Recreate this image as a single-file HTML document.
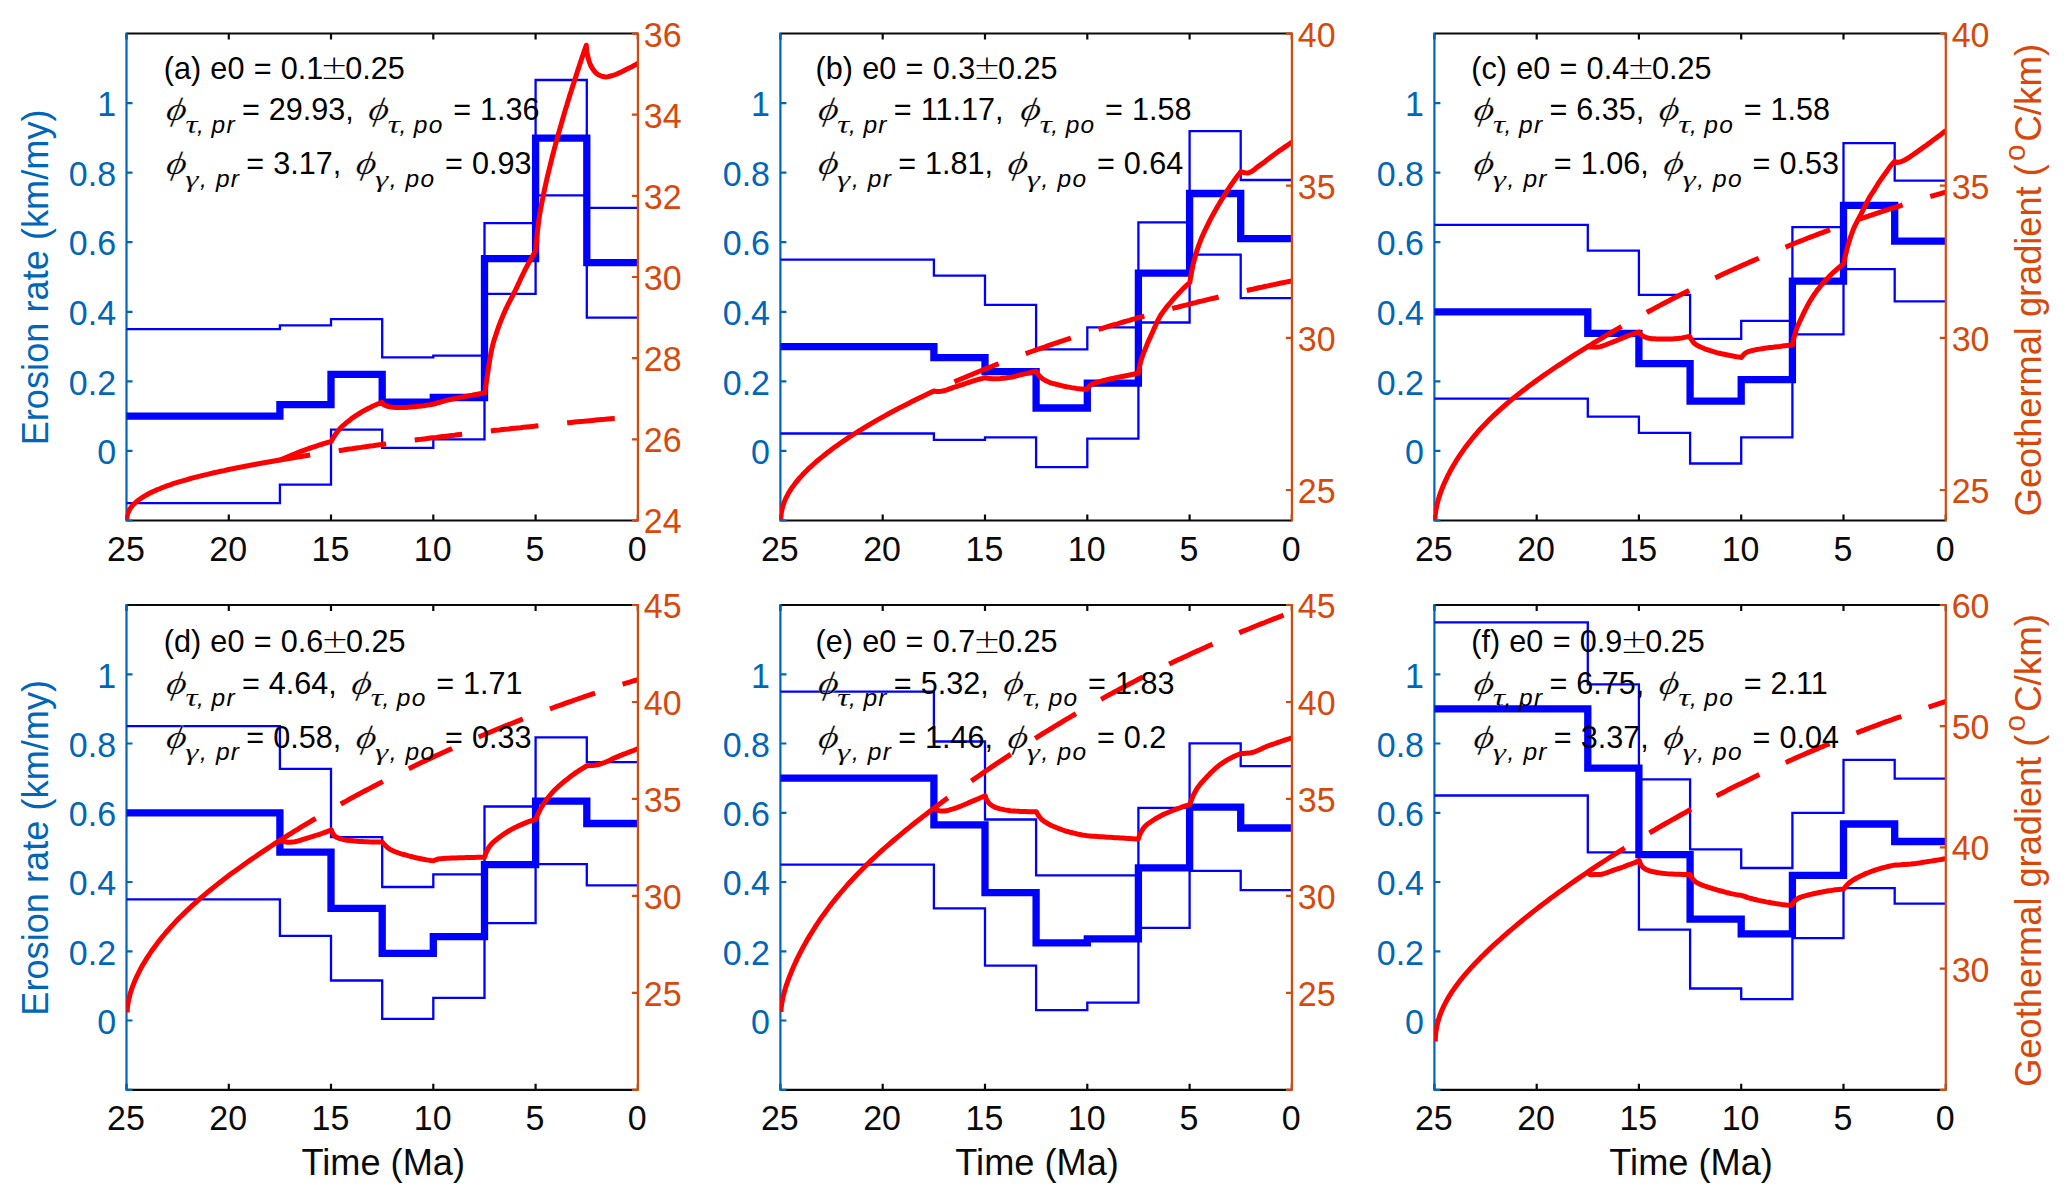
<!DOCTYPE html>
<html><head><meta charset="utf-8"><title>Erosion rate and geothermal gradient</title>
<style>html,body{margin:0;padding:0;background:#fff}svg{display:block}</style></head>
<body><svg width="2067" height="1204" viewBox="0 0 2067 1204">
<rect width="2067" height="1204" fill="#fff"/>
<g>
<path d="M126.5 33.5 H637.9 M126.5 520.5 H637.9" stroke="#0a0a0a" stroke-width="2.2" fill="none"/>
<path d="M126.5 520.5 v-6 M126.5 33.5 v6 M228.8 520.5 v-6 M228.8 33.5 v6 M331 520.5 v-6 M331 33.5 v6 M433.3 520.5 v-6 M433.3 33.5 v6 M535.6 520.5 v-6 M535.6 33.5 v6 M637.9 520.5 v-6 M637.9 33.5 v6 " stroke="#0a0a0a" stroke-width="2.2" fill="none"/>
<path d="M126.5 32.4 V521.6 M126.5 520.5 h6 M126.5 450.9 h6 M126.5 381.3 h6 M126.5 311.8 h6 M126.5 242.2 h6 M126.5 172.7 h6 M126.5 103.1 h6 " stroke="#0066B7" stroke-width="2.2" fill="none"/>
<clipPath id="clip_a"><rect x="126.2" y="33.2" width="512" height="487.5"/></clipPath>
<g clip-path="url(#clip_a)">
<path d="M126.5 329.2 L279.9 329.2 L279.9 325.3 L331 325.3 L331 319.1 L382.2 319.1 L382.2 357.3 L433.3 357.3 L433.3 355.6 L484.5 355.6 L484.5 223.1 L535.6 223.1 L535.6 80 L586.8 80 L586.8 207.8 L637.9 207.8" fill="none" stroke="#0000ff" stroke-width="2.3" stroke-linejoin="miter"/>
<path d="M126.5 503.1 L279.9 503.1 L279.9 484.6 L331 484.6 L331 429.7 L382.2 429.7 L382.2 447.8 L433.3 447.8 L433.3 439.4 L484.5 439.4 L484.5 293.8 L535.6 293.8 L535.6 195.3 L586.8 195.3 L586.8 317.7 L637.9 317.7" fill="none" stroke="#0000ff" stroke-width="2.3" stroke-linejoin="miter"/>
<path d="M126.5 416.1 L279.9 416.1 L279.9 404.6 L331 404.6 L331 374.4 L382.2 374.4 L382.2 402.2 L433.3 402.2 L433.3 397.5 L484.5 397.5 L484.5 258.6 L535.6 258.6 L535.6 138.2 L586.8 138.2 L586.8 262.7 L637.9 262.7" fill="none" stroke="#0000ff" stroke-width="7.3" stroke-linejoin="miter"/>
<path d="M126.8 519.6 L126.8 518.5 L126.9 517.3 L127.1 516.2 L127.3 515.2 L127.6 514.1 L128 513 L128.4 512 L128.9 510.9 L129.4 509.9 L130 508.9 L130.7 507.9 L131.4 506.9 L132.2 505.9 L133.1 504.9 L134 503.9 L135 503 L136.1 502 L137.2 501.1 L138.4 500.1 L139.7 499.2 L141 498.3 L142.4 497.4 L143.8 496.5 L145.3 495.6 L146.9 494.7 L148.5 493.8 L150.2 492.9 L152 492.1 L153.8 491.2 L155.7 490.4 L157.7 489.5 L159.7 488.7 L161.8 487.8 L164 487 L166.2 486.2 L168.5 485.4 L170.8 484.6 L173.2 483.7 L175.7 482.9 L178.3 482.1 L180.9 481.3 L183.5 480.6 L186.3 479.8 L189.1 479 L191.9 478.2 L194.8 477.4 L197.8 476.7 L200.9 475.9 L204 475.1 L207.2 474.4 L210.4 473.6 L213.8 472.8 L217.1 472.1 L220.6 471.3 L224.1 470.6 L227.6 469.8 L231.3 469 L235 468.3 L238.7 467.5 L242.6 466.8 L246.5 466 L250.4 465.3 L254.4 464.5 L258.5 463.8 L262.7 463 L266.9 462.3 L271.2 461.5 L275.5 460.8 L279.9 460 L282.3 459 L284.7 458 L287.1 457 L289.5 456 L291.9 455 L294.3 454 L296.7 453.1 L299.1 452.1 L301.6 451.2 L304 450.3 L306.5 449.4 L308.9 448.5 L311.4 447.7 L313.8 446.9 L316.3 446.1 L318.8 445.2 L321.2 444.5 L323.7 443.7 L326.2 442.9 L328.7 442.2 L331.2 441.5 L332.4 439.2 L333.7 437 L335.1 434.9 L336.5 432.9 L338 430.9 L339.6 429 L341.3 427.2 L343.2 425.5 L345.1 423.8 L347 422.2 L349 420.7 L351 419.1 L353 417.6 L355.1 416.2 L357.2 414.8 L359.3 413.5 L361.4 412.2 L363.6 410.9 L365.8 409.7 L368 408.5 L370.3 407.4 L372.5 406.3 L374.8 405.3 L377.1 404.3 L379.5 403.3 L381.8 402.4 L383.5 404.5 L385.6 405.7 L388 406.5 L390.6 406.9 L393.1 407.2 L395.7 407.4 L398.3 407.6 L400.8 407.6 L403.4 407.5 L405.9 407.4 L408.5 407.3 L411.1 407 L413.6 406.8 L416.2 406.6 L418.7 406.3 L421.3 406 L423.8 405.7 L426.3 405.3 L428.9 404.9 L431.4 404.5 L433.9 404 L436.4 403.2 L438.9 402.5 L441.4 401.8 L443.9 401.1 L446.4 400.4 L449 399.8 L451.5 399.2 L454 398.6 L456.6 398.1 L459.1 397.6 L461.7 397.1 L464.3 396.6 L466.8 396.1 L469.4 395.6 L472 395.2 L474.5 394.7 L477.1 394.3 L479.7 393.8 L482.2 393.4 L484.8 393 L485.1 390.5 L485.5 388 L485.8 385.6 L486.2 383.1 L486.6 380.6 L486.9 378.1 L487.3 375.7 L487.7 373.2 L488.1 370.7 L488.4 368.2 L488.8 365.7 L489.2 363.3 L489.6 360.8 L490 358.3 L490.4 355.8 L490.9 353.4 L491.4 350.9 L491.9 348.5 L492.5 346.1 L493.1 343.7 L493.8 341.2 L494.5 338.8 L495.3 336.5 L496.1 334.1 L496.9 331.7 L497.7 329.3 L498.5 327 L499.4 324.6 L500.3 322.3 L501.2 319.9 L502.2 317.6 L503.1 315.3 L504.1 313 L505.1 310.7 L506.2 308.4 L507.2 306.2 L508.3 303.9 L509.5 301.7 L510.6 299.5 L511.8 297.3 L513 295 L514.1 292.8 L515.2 290.6 L516.3 288.3 L517.4 286.1 L518.4 283.8 L519.5 281.5 L520.5 279.2 L521.6 277 L522.7 274.7 L523.8 272.5 L524.9 270.2 L526 268 L527.2 265.8 L528.4 263.6 L529.6 261.4 L530.8 259.2 L532 257 L533.3 254.8 L534.5 252.7 L535.8 250.5 L536 248 L536.1 245.5 L536.3 242.9 L536.6 240.4 L536.8 237.9 L537 235.4 L537.3 232.9 L537.6 230.4 L537.9 227.9 L538.2 225.4 L538.5 222.9 L538.8 220.4 L539.2 217.9 L539.5 215.4 L539.9 212.9 L540.4 210.4 L540.8 207.9 L541.3 205.4 L541.8 203 L542.3 200.5 L542.8 198 L543.3 195.5 L543.8 193.1 L544.3 190.6 L544.8 188.1 L545.4 185.7 L545.9 183.2 L546.5 180.7 L547 178.3 L547.6 175.8 L548.2 173.4 L548.8 170.9 L549.4 168.5 L550 166 L550.6 163.5 L551.2 161.1 L551.8 158.7 L552.4 156.2 L553.1 153.8 L553.7 151.3 L554.3 148.9 L555 146.4 L555.6 144 L556.3 141.6 L557 139.1 L557.6 136.7 L558.3 134.3 L559 131.8 L559.7 129.4 L560.4 127 L561.1 124.6 L561.8 122.1 L562.5 119.7 L563.2 117.3 L563.9 114.9 L564.6 112.4 L565.3 110 L566 107.6 L566.8 105.2 L567.5 102.8 L568.2 100.4 L569 98 L569.7 95.5 L570.5 93.1 L571.3 90.7 L572 88.3 L572.8 85.9 L573.6 83.5 L574.3 81.1 L575.1 78.7 L575.9 76.3 L576.7 73.9 L577.4 71.5 L578.2 69.1 L579 66.7 L579.8 64.3 L580.6 61.9 L581.4 59.5 L582.2 57.1 L583 54.8 L583.8 52.4 L584.7 50 L585.5 47.6 L586.3 45.2 L586.4 47.8 L586.7 50.4 L587.1 52.9 L587.6 55.4 L588.2 57.8 L588.8 60.2 L589.5 62.6 L590.5 65 L591.7 67.3 L593.1 69.5 L594.6 71.5 L596.3 73.2 L598.4 74.8 L600.7 75.8 L603.1 76.6 L605.7 76.9 L608.2 76.7 L610.6 76 L613.1 75.3 L615.5 74.5 L617.8 73.6 L620.1 72.5 L622.4 71.4 L624.7 70.2 L627 69.1 L629.2 68 L631.5 66.9 L633.7 65.7 L636 64.5 L638.2 63.3" fill="none" stroke="#ff0000" stroke-width="5.0" stroke-linejoin="round" stroke-linecap="butt"/>
<path d="M279.9 460 L282.9 459.5 L285.9 459 L288.9 458.5 L291.9 458 L294.9 457.5 L298 457 L301 456.5 L304 456 L307 455.5 L310 455.1 L313 454.6 L316 454.1 L319 453.6 L322 453.2 L325 452.7 L328 452.2 L331 451.8 L334.1 451.3 L337.1 450.9 L340.1 450.4 L343.1 450 L346.1 449.5 L349.1 449.1 L352.1 448.7 L355.1 448.2 L358.1 447.8 L361.1 447.4 L364.1 446.9 L367.2 446.5 L370.2 446.1 L373.2 445.7 L376.2 445.2 L379.2 444.8 L382.2 444.4 L385.2 444 L388.2 443.6 L391.2 443.2 L394.2 442.8 L397.2 442.4 L400.2 442 L403.3 441.6 L406.3 441.2 L409.3 440.8 L412.3 440.4 L415.3 440 L418.3 439.6 L421.3 439.3 L424.3 438.9 L427.3 438.5 L430.3 438.1 L433.3 437.7 L436.3 437.4 L439.4 437 L442.4 436.6 L445.4 436.3 L448.4 435.9 L451.4 435.5 L454.4 435.2 L457.4 434.8 L460.4 434.4 L463.4 434.1 L466.4 433.7 L469.4 433.4 L472.5 433 L475.5 432.7 L478.5 432.3 L481.5 432 L484.5 431.6 L487.5 431.3 L490.5 431 L493.5 430.6 L496.5 430.3 L499.5 430 L502.5 429.6 L505.5 429.3 L508.6 429 L511.6 428.6 L514.6 428.3 L517.6 428 L520.6 427.7 L523.6 427.3 L526.6 427 L529.6 426.7 L532.6 426.4 L535.6 426.1 L538.6 425.8 L541.6 425.5 L544.7 425.1 L547.7 424.8 L550.7 424.5 L553.7 424.2 L556.7 423.9 L559.7 423.6 L562.7 423.3 L565.7 423 L568.7 422.7 L571.7 422.4 L574.7 422.1 L577.7 421.8 L580.8 421.5 L583.8 421.3 L586.8 421 L589.8 420.7 L592.8 420.4 L595.8 420.1 L598.8 419.8 L601.8 419.5 L604.8 419.3 L607.8 419 L610.8 418.7 L613.9 418.4 L616.9 418.2 L619.9 417.9 L622.9 417.6 L625.9 417.3 L628.9 417.1 L631.9 416.8 L634.9 416.5 L637.9 416.3" fill="none" stroke="#ff0000" stroke-width="5.0" stroke-dasharray="47.8 28.9" stroke-dashoffset="17.1"/>
</g>
<path d="M637.9 32.4 V521.6 M637.9 520.5 h-6 M637.9 439.3 h-6 M637.9 358.2 h-6 M637.9 277 h-6 M637.9 195.9 h-6 M637.9 114.7 h-6 M637.9 33.6 h-6 " stroke="#D8480A" stroke-width="2.2" fill="none"/>
<g font-family='"Liberation Sans", sans-serif' font-size="35.6">
<text transform="translate(125.9 560.7) scale(0.955 1)" text-anchor="middle" fill="#0a0a0a">25</text>
<text transform="translate(228.2 560.7) scale(0.955 1)" text-anchor="middle" fill="#0a0a0a">20</text>
<text transform="translate(330.4 560.7) scale(0.955 1)" text-anchor="middle" fill="#0a0a0a">15</text>
<text transform="translate(432.7 560.7) scale(0.955 1)" text-anchor="middle" fill="#0a0a0a">10</text>
<text transform="translate(535 560.7) scale(0.955 1)" text-anchor="middle" fill="#0a0a0a">5</text>
<text transform="translate(637.3 560.7) scale(0.955 1)" text-anchor="middle" fill="#0a0a0a">0</text>
<text transform="translate(116.1 464.1) scale(0.955 1)" text-anchor="end" fill="#0066B7">0</text>
<text transform="translate(116.1 394.5) scale(0.955 1)" text-anchor="end" fill="#0066B7">0.2</text>
<text transform="translate(116.1 325) scale(0.955 1)" text-anchor="end" fill="#0066B7">0.4</text>
<text transform="translate(116.1 255.4) scale(0.955 1)" text-anchor="end" fill="#0066B7">0.6</text>
<text transform="translate(116.1 185.9) scale(0.955 1)" text-anchor="end" fill="#0066B7">0.8</text>
<text transform="translate(116.1 116.3) scale(0.955 1)" text-anchor="end" fill="#0066B7">1</text>
<text transform="translate(643.8 533.4) scale(0.955 1)" text-anchor="start" fill="#D8480A">24</text>
<text transform="translate(643.8 452.2) scale(0.955 1)" text-anchor="start" fill="#D8480A">26</text>
<text transform="translate(643.8 371.1) scale(0.955 1)" text-anchor="start" fill="#D8480A">28</text>
<text transform="translate(643.8 289.9) scale(0.955 1)" text-anchor="start" fill="#D8480A">30</text>
<text transform="translate(643.8 208.8) scale(0.955 1)" text-anchor="start" fill="#D8480A">32</text>
<text transform="translate(643.8 127.6) scale(0.955 1)" text-anchor="start" fill="#D8480A">34</text>
<text transform="translate(643.8 46.5) scale(0.955 1)" text-anchor="start" fill="#D8480A">36</text>
</g>
<g font-family='"Liberation Sans", sans-serif' font-size="31.8" fill="#000">
<text transform="translate(163.7 79.1) scale(0.9623 1)" word-spacing="0.83">(a) e0 = 0.1</text>
<text x="320.3" y="79.4" font-family='"DejaVu Sans", sans-serif' font-weight="200" font-size="33.2">±</text>
<text transform="translate(345.3 79.1) scale(0.9623 1)">0.25</text>
<text transform="translate(165 120.4) skewX(-10) scale(1.2 1)" font-family='"Liberation Serif", "DejaVu Serif", serif' font-style="italic" font-size="32.5" stroke="#fff" stroke-width="0.25">ϕ</text>
<text transform="translate(185.2 133.2) scale(1.42 1)" font-family='"Liberation Serif", "DejaVu Serif", serif' font-style="italic" font-size="24.4" stroke="#fff" stroke-width="0.12">τ</text>
<text x="197.1" y="133.2" font-style="italic" font-size="24.5">,</text>
<text x="211.5" y="133.2" font-style="italic" font-size="24.5" letter-spacing="1.3">pr</text>
<text transform="translate(241.9 120.4) scale(0.9623 1)">=</text>
<text transform="translate(268.8 120.4) scale(0.9623 1)">29.93,</text>
<text transform="translate(367.3 120.4) skewX(-10) scale(1.2 1)" font-family='"Liberation Serif", "DejaVu Serif", serif' font-style="italic" font-size="32.5" stroke="#fff" stroke-width="0.25">ϕ</text>
<text transform="translate(387.5 133.2) scale(1.42 1)" font-family='"Liberation Serif", "DejaVu Serif", serif' font-style="italic" font-size="24.4" stroke="#fff" stroke-width="0.12">τ</text>
<text x="399.4" y="133.2" font-style="italic" font-size="24.5">,</text>
<text x="413.8" y="133.2" font-style="italic" font-size="24.5" letter-spacing="1.3">po</text>
<text transform="translate(453.2 120.4) scale(0.9623 1)">=</text>
<text transform="translate(480.1 120.4) scale(0.9623 1)">1.36</text>
<text transform="translate(165 174.4) skewX(-10) scale(1.2 1)" font-family='"Liberation Serif", "DejaVu Serif", serif' font-style="italic" font-size="32.5" stroke="#fff" stroke-width="0.25">ϕ</text>
<text transform="translate(185.2 187.2) scale(1.4 1)" font-family='"Liberation Serif", "DejaVu Serif", serif' font-style="italic" font-size="24.0" stroke="#fff" stroke-width="0.12">γ</text>
<text x="200" y="187.2" font-style="italic" font-size="24.5">,</text>
<text x="215.9" y="187.2" font-style="italic" font-size="24.5" letter-spacing="1.3">pr</text>
<text transform="translate(246.3 174.4) scale(0.9623 1)">=</text>
<text transform="translate(273.2 174.4) scale(0.9623 1)">3.17,</text>
<text transform="translate(354.7 174.4) skewX(-10) scale(1.2 1)" font-family='"Liberation Serif", "DejaVu Serif", serif' font-style="italic" font-size="32.5" stroke="#fff" stroke-width="0.25">ϕ</text>
<text transform="translate(374.9 187.2) scale(1.4 1)" font-family='"Liberation Serif", "DejaVu Serif", serif' font-style="italic" font-size="24.0" stroke="#fff" stroke-width="0.12">γ</text>
<text x="389.7" y="187.2" font-style="italic" font-size="24.5">,</text>
<text x="405.6" y="187.2" font-style="italic" font-size="24.5" letter-spacing="1.3">po</text>
<text transform="translate(445 174.4) scale(0.9623 1)">=</text>
<text transform="translate(471.9 174.4) scale(0.9623 1)">0.93</text>
</g>
</g>
<g>
<path d="M780.4 33.5 H1291.9 M780.4 520.5 H1291.9" stroke="#0a0a0a" stroke-width="2.2" fill="none"/>
<path d="M780.4 520.5 v-6 M780.4 33.5 v6 M882.7 520.5 v-6 M882.7 33.5 v6 M985 520.5 v-6 M985 33.5 v6 M1087.3 520.5 v-6 M1087.3 33.5 v6 M1189.6 520.5 v-6 M1189.6 33.5 v6 M1291.9 520.5 v-6 M1291.9 33.5 v6 " stroke="#0a0a0a" stroke-width="2.2" fill="none"/>
<path d="M780.4 32.4 V521.6 M780.4 520.5 h6 M780.4 450.9 h6 M780.4 381.3 h6 M780.4 311.8 h6 M780.4 242.2 h6 M780.4 172.7 h6 M780.4 103.1 h6 " stroke="#0066B7" stroke-width="2.2" fill="none"/>
<clipPath id="clip_b"><rect x="780.1" y="33.2" width="512" height="487.5"/></clipPath>
<g clip-path="url(#clip_b)">
<path d="M780.4 259.6 L933.9 259.6 L933.9 275.6 L985 275.6 L985 304.8 L1036.1 304.8 L1036.1 349.3 L1087.3 349.3 L1087.3 327.4 L1138.4 327.4 L1138.4 222.4 L1189.6 222.4 L1189.6 131.1 L1240.7 131.1 L1240.7 180 L1291.9 180" fill="none" stroke="#0000ff" stroke-width="2.3" stroke-linejoin="miter"/>
<path d="M780.4 433.5 L933.9 433.5 L933.9 439.8 L985 439.8 L985 437.3 L1036.1 437.3 L1036.1 467.2 L1087.3 467.2 L1087.3 438.6 L1138.4 438.6 L1138.4 322.5 L1189.6 322.5 L1189.6 254.7 L1240.7 254.7 L1240.7 298.1 L1291.9 298.1" fill="none" stroke="#0000ff" stroke-width="2.3" stroke-linejoin="miter"/>
<path d="M780.4 346.6 L933.9 346.6 L933.9 357.7 L985 357.7 L985 371.6 L1036.1 371.6 L1036.1 408 L1087.3 408 L1087.3 383.1 L1138.4 383.1 L1138.4 273.2 L1189.6 273.2 L1189.6 193.5 L1240.7 193.5 L1240.7 238.7 L1291.9 238.7" fill="none" stroke="#0000ff" stroke-width="7.3" stroke-linejoin="miter"/>
<path d="M780.8 519.9 L780.8 518.2 L780.9 516.4 L781.1 514.7 L781.3 513 L781.6 511.3 L782 509.5 L782.4 507.8 L782.9 506.1 L783.4 504.4 L784 502.7 L784.7 500.9 L785.4 499.2 L786.2 497.5 L787.1 495.8 L788 494 L789 492.3 L790.1 490.6 L791.2 488.8 L792.4 487.1 L793.7 485.4 L795 483.6 L796.4 481.9 L797.8 480.1 L799.3 478.3 L800.9 476.6 L802.5 474.8 L804.2 473 L806 471.2 L807.8 469.4 L809.7 467.6 L811.7 465.8 L813.7 464 L815.8 462.1 L818 460.3 L820.2 458.4 L822.5 456.6 L824.8 454.7 L827.2 452.8 L829.7 450.9 L832.2 449 L834.8 447.1 L837.5 445.2 L840.2 443.3 L843 441.3 L845.9 439.4 L848.8 437.4 L851.8 435.5 L854.9 433.5 L858 431.5 L861.2 429.6 L864.4 427.6 L867.7 425.6 L871.1 423.6 L874.5 421.6 L878 419.6 L881.6 417.6 L885.2 415.6 L888.9 413.5 L892.7 411.5 L896.5 409.5 L900.4 407.4 L904.4 405.4 L908.4 403.4 L912.5 401.3 L916.6 399.3 L920.8 397.2 L925.1 395.2 L929.5 393.1 L933.9 391.1 L936.4 391.4 L938.9 391.5 L941.4 391.3 L943.8 390.8 L946.3 390.1 L948.7 389.2 L951.1 388.3 L953.5 387.4 L956 386.7 L958.4 385.9 L960.8 385.1 L963.2 384.3 L965.6 383.5 L968 382.7 L970.4 381.9 L972.8 381.2 L975.2 380.4 L977.7 379.7 L980.1 379 L982.6 378.4 L985 377.7 L987.6 378.2 L990.2 378.6 L992.7 378.8 L995.3 378.8 L997.9 378.7 L1000.5 378.5 L1003.1 378.2 L1005.7 377.9 L1008.3 377.6 L1010.8 377.2 L1013.3 376.7 L1015.9 376.1 L1018.4 375.4 L1020.9 374.8 L1023.5 374.1 L1026 373.6 L1028.5 373 L1031 372.4 L1033.6 371.8 L1036.1 371.2 L1037.4 373.5 L1039 375.5 L1040.6 377.3 L1042.6 378.8 L1044.8 380.2 L1047 381.3 L1049.3 382.3 L1051.7 383.1 L1054.2 383.8 L1056.6 384.4 L1059 385 L1061.5 385.6 L1064 386.2 L1066.4 386.7 L1068.9 387.1 L1071.4 387.6 L1073.9 388 L1076.4 388.4 L1078.9 388.7 L1081.4 389 L1083.9 389.3 L1086.4 389.6 L1088 387.5 L1089.8 385.7 L1091.7 384.3 L1093.9 383.3 L1096.3 382.5 L1098.8 381.8 L1101.3 381.1 L1103.8 380.5 L1106.2 379.9 L1108.7 379.3 L1111.1 378.8 L1113.6 378.3 L1116.1 377.7 L1118.5 377.2 L1121 376.7 L1123.5 376.2 L1125.9 375.7 L1128.4 375.3 L1130.9 374.8 L1133.3 374.3 L1135.8 373.8 L1138.3 373.4 L1138.7 370.9 L1139.2 368.4 L1139.7 365.9 L1140.3 363.4 L1140.9 361 L1141.6 358.5 L1142.4 356.1 L1143.3 353.8 L1144.2 351.4 L1145.2 349 L1146.2 346.7 L1147.1 344.3 L1148.1 342 L1149.1 339.7 L1150.2 337.4 L1151.2 335.1 L1152.3 332.7 L1153.3 330.4 L1154.3 328.1 L1155.4 325.8 L1156.4 323.4 L1157.5 321.1 L1158.6 318.9 L1159.8 316.7 L1161.1 314.5 L1162.6 312.5 L1164.1 310.4 L1165.6 308.4 L1167.2 306.4 L1168.9 304.4 L1170.5 302.5 L1172.1 300.5 L1173.8 298.6 L1175.5 296.7 L1177.2 294.9 L1178.9 293 L1180.7 291.2 L1182.4 289.3 L1184.2 287.6 L1186.1 285.8 L1187.9 284 L1189.8 282.3 L1190.2 279.8 L1190.6 277.3 L1191 274.8 L1191.5 272.3 L1192 269.9 L1192.5 267.4 L1193 265 L1193.6 262.5 L1194.2 260.1 L1194.9 257.7 L1195.6 255.2 L1196.3 252.8 L1197 250.4 L1197.8 248 L1198.6 245.6 L1199.5 243.3 L1200.4 240.9 L1201.3 238.6 L1202.3 236.3 L1203.3 234 L1204.4 231.7 L1205.5 229.4 L1206.6 227.1 L1207.7 224.9 L1208.8 222.6 L1209.9 220.4 L1211.1 218.1 L1212.3 215.9 L1213.5 213.7 L1214.7 211.5 L1216 209.3 L1217.2 207.1 L1218.5 205 L1219.8 202.8 L1221.1 200.6 L1222.4 198.5 L1223.7 196.3 L1225 194.2 L1226.4 192 L1227.7 189.9 L1229.1 187.8 L1230.5 185.7 L1231.9 183.7 L1233.4 181.6 L1234.9 179.6 L1236.3 177.5 L1237.8 175.5 L1239.4 173.5 L1240.9 171.5 L1243.4 172.5 L1245.9 172.9 L1248.2 172.9 L1250.5 172.2 L1252.7 170.8 L1254.8 169.2 L1256.9 167.4 L1259 165.9 L1261.1 164.4 L1263.2 162.9 L1265.2 161.4 L1267.2 159.8 L1269.2 158.3 L1271.2 156.7 L1273.2 155.2 L1275.3 153.7 L1277.3 152.2 L1279.4 150.7 L1281.5 149.3 L1283.6 147.9 L1285.7 146.4 L1287.8 145 L1289.9 143.6 L1292 142.2" fill="none" stroke="#ff0000" stroke-width="5.0" stroke-linejoin="round" stroke-linecap="butt"/>
<path d="M933.9 391.1 L936.9 389.7 L939.9 388.3 L942.9 387 L945.9 385.6 L948.9 384.3 L951.9 382.9 L954.9 381.6 L957.9 380.3 L960.9 379 L963.9 377.8 L966.9 376.5 L970 375.2 L973 374 L976 372.7 L979 371.5 L982 370.3 L985 369.1 L988 367.9 L991 366.7 L994 365.5 L997 364.4 L1000 363.2 L1003.1 362 L1006.1 360.9 L1009.1 359.8 L1012.1 358.6 L1015.1 357.5 L1018.1 356.4 L1021.1 355.3 L1024.1 354.2 L1027.1 353.1 L1030.1 352 L1033.1 351 L1036.1 349.9 L1039.2 348.8 L1042.2 347.8 L1045.2 346.8 L1048.2 345.7 L1051.2 344.7 L1054.2 343.7 L1057.2 342.7 L1060.2 341.6 L1063.2 340.7 L1066.2 339.7 L1069.2 338.7 L1072.2 337.7 L1075.3 336.7 L1078.3 335.8 L1081.3 334.8 L1084.3 333.8 L1087.3 332.9 L1090.3 332 L1093.3 331 L1096.3 330.1 L1099.3 329.2 L1102.3 328.3 L1105.3 327.3 L1108.3 326.4 L1111.4 325.5 L1114.4 324.6 L1117.4 323.8 L1120.4 322.9 L1123.4 322 L1126.4 321.1 L1129.4 320.3 L1132.4 319.4 L1135.4 318.6 L1138.4 317.7 L1141.4 316.9 L1144.5 316 L1147.5 315.2 L1150.5 314.4 L1153.5 313.6 L1156.5 312.7 L1159.5 311.9 L1162.5 311.1 L1165.5 310.3 L1168.5 309.5 L1171.5 308.7 L1174.5 307.9 L1177.5 307.2 L1180.6 306.4 L1183.6 305.6 L1186.6 304.9 L1189.6 304.1 L1192.6 303.3 L1195.6 302.6 L1198.6 301.8 L1201.6 301.1 L1204.6 300.4 L1207.6 299.6 L1210.6 298.9 L1213.6 298.2 L1216.7 297.5 L1219.7 296.7 L1222.7 296 L1225.7 295.3 L1228.7 294.6 L1231.7 293.9 L1234.7 293.2 L1237.7 292.5 L1240.7 291.9 L1243.7 291.2 L1246.7 290.5 L1249.8 289.8 L1252.8 289.2 L1255.8 288.5 L1258.8 287.8 L1261.8 287.2 L1264.8 286.5 L1267.8 285.9 L1270.8 285.2 L1273.8 284.6 L1276.8 284 L1279.8 283.3 L1282.8 282.7 L1285.9 282.1 L1288.9 281.5 L1291.9 280.9" fill="none" stroke="#ff0000" stroke-width="5.0" stroke-dasharray="47.8 28.9" stroke-dashoffset="54.2"/>
</g>
<path d="M1291.9 32.4 V521.6 M1291.9 490 h-6 M1291.9 337.9 h-6 M1291.9 185.7 h-6 M1291.9 33.6 h-6 " stroke="#D8480A" stroke-width="2.2" fill="none"/>
<g font-family='"Liberation Sans", sans-serif' font-size="35.6">
<text transform="translate(779.8 560.7) scale(0.955 1)" text-anchor="middle" fill="#0a0a0a">25</text>
<text transform="translate(882.1 560.7) scale(0.955 1)" text-anchor="middle" fill="#0a0a0a">20</text>
<text transform="translate(984.4 560.7) scale(0.955 1)" text-anchor="middle" fill="#0a0a0a">15</text>
<text transform="translate(1086.7 560.7) scale(0.955 1)" text-anchor="middle" fill="#0a0a0a">10</text>
<text transform="translate(1189 560.7) scale(0.955 1)" text-anchor="middle" fill="#0a0a0a">5</text>
<text transform="translate(1291.3 560.7) scale(0.955 1)" text-anchor="middle" fill="#0a0a0a">0</text>
<text transform="translate(770 464.1) scale(0.955 1)" text-anchor="end" fill="#0066B7">0</text>
<text transform="translate(770 394.5) scale(0.955 1)" text-anchor="end" fill="#0066B7">0.2</text>
<text transform="translate(770 325) scale(0.955 1)" text-anchor="end" fill="#0066B7">0.4</text>
<text transform="translate(770 255.4) scale(0.955 1)" text-anchor="end" fill="#0066B7">0.6</text>
<text transform="translate(770 185.9) scale(0.955 1)" text-anchor="end" fill="#0066B7">0.8</text>
<text transform="translate(770 116.3) scale(0.955 1)" text-anchor="end" fill="#0066B7">1</text>
<text transform="translate(1297.8 502.9) scale(0.955 1)" text-anchor="start" fill="#D8480A">25</text>
<text transform="translate(1297.8 350.8) scale(0.955 1)" text-anchor="start" fill="#D8480A">30</text>
<text transform="translate(1297.8 198.6) scale(0.955 1)" text-anchor="start" fill="#D8480A">35</text>
<text transform="translate(1297.8 46.5) scale(0.955 1)" text-anchor="start" fill="#D8480A">40</text>
</g>
<g font-family='"Liberation Sans", sans-serif' font-size="31.8" fill="#000">
<text transform="translate(815.6 79.1) scale(0.9623 1)" word-spacing="0.83">(b) e0 = 0.3</text>
<text x="973.1" y="79.4" font-family='"DejaVu Sans", sans-serif' font-weight="200" font-size="33.2">±</text>
<text transform="translate(998.1 79.1) scale(0.9623 1)">0.25</text>
<text transform="translate(816.9 120.4) skewX(-10) scale(1.2 1)" font-family='"Liberation Serif", "DejaVu Serif", serif' font-style="italic" font-size="32.5" stroke="#fff" stroke-width="0.25">ϕ</text>
<text transform="translate(837.1 133.2) scale(1.42 1)" font-family='"Liberation Serif", "DejaVu Serif", serif' font-style="italic" font-size="24.4" stroke="#fff" stroke-width="0.12">τ</text>
<text x="849" y="133.2" font-style="italic" font-size="24.5">,</text>
<text x="863.4" y="133.2" font-style="italic" font-size="24.5" letter-spacing="1.3">pr</text>
<text transform="translate(893.8 120.4) scale(0.9623 1)">=</text>
<text transform="translate(920.7 120.4) scale(0.9623 1)">11.17,</text>
<text transform="translate(1019.2 120.4) skewX(-10) scale(1.2 1)" font-family='"Liberation Serif", "DejaVu Serif", serif' font-style="italic" font-size="32.5" stroke="#fff" stroke-width="0.25">ϕ</text>
<text transform="translate(1039.4 133.2) scale(1.42 1)" font-family='"Liberation Serif", "DejaVu Serif", serif' font-style="italic" font-size="24.4" stroke="#fff" stroke-width="0.12">τ</text>
<text x="1051.3" y="133.2" font-style="italic" font-size="24.5">,</text>
<text x="1065.7" y="133.2" font-style="italic" font-size="24.5" letter-spacing="1.3">po</text>
<text transform="translate(1105.1 120.4) scale(0.9623 1)">=</text>
<text transform="translate(1132 120.4) scale(0.9623 1)">1.58</text>
<text transform="translate(816.9 174.4) skewX(-10) scale(1.2 1)" font-family='"Liberation Serif", "DejaVu Serif", serif' font-style="italic" font-size="32.5" stroke="#fff" stroke-width="0.25">ϕ</text>
<text transform="translate(837.1 187.2) scale(1.4 1)" font-family='"Liberation Serif", "DejaVu Serif", serif' font-style="italic" font-size="24.0" stroke="#fff" stroke-width="0.12">γ</text>
<text x="851.9" y="187.2" font-style="italic" font-size="24.5">,</text>
<text x="867.8" y="187.2" font-style="italic" font-size="24.5" letter-spacing="1.3">pr</text>
<text transform="translate(898.2 174.4) scale(0.9623 1)">=</text>
<text transform="translate(925.1 174.4) scale(0.9623 1)">1.81,</text>
<text transform="translate(1006.6 174.4) skewX(-10) scale(1.2 1)" font-family='"Liberation Serif", "DejaVu Serif", serif' font-style="italic" font-size="32.5" stroke="#fff" stroke-width="0.25">ϕ</text>
<text transform="translate(1026.8 187.2) scale(1.4 1)" font-family='"Liberation Serif", "DejaVu Serif", serif' font-style="italic" font-size="24.0" stroke="#fff" stroke-width="0.12">γ</text>
<text x="1041.6" y="187.2" font-style="italic" font-size="24.5">,</text>
<text x="1057.5" y="187.2" font-style="italic" font-size="24.5" letter-spacing="1.3">po</text>
<text transform="translate(1096.9 174.4) scale(0.9623 1)">=</text>
<text transform="translate(1123.8 174.4) scale(0.9623 1)">0.64</text>
</g>
</g>
<g>
<path d="M1434.4 33.5 H1945.8 M1434.4 520.5 H1945.8" stroke="#0a0a0a" stroke-width="2.2" fill="none"/>
<path d="M1434.4 520.5 v-6 M1434.4 33.5 v6 M1536.7 520.5 v-6 M1536.7 33.5 v6 M1638.9 520.5 v-6 M1638.9 33.5 v6 M1741.2 520.5 v-6 M1741.2 33.5 v6 M1843.5 520.5 v-6 M1843.5 33.5 v6 M1945.8 520.5 v-6 M1945.8 33.5 v6 " stroke="#0a0a0a" stroke-width="2.2" fill="none"/>
<path d="M1434.4 32.4 V521.6 M1434.4 520.5 h6 M1434.4 450.9 h6 M1434.4 381.3 h6 M1434.4 311.8 h6 M1434.4 242.2 h6 M1434.4 172.7 h6 M1434.4 103.1 h6 " stroke="#0066B7" stroke-width="2.2" fill="none"/>
<clipPath id="clip_c"><rect x="1434.1" y="33.2" width="512" height="487.5"/></clipPath>
<g clip-path="url(#clip_c)">
<path d="M1434.4 224.8 L1587.8 224.8 L1587.8 250.7 L1638.9 250.7 L1638.9 294.9 L1690.1 294.9 L1690.1 338.9 L1741.2 338.9 L1741.2 320.8 L1792.4 320.8 L1792.4 227.2 L1843.5 227.2 L1843.5 143.1 L1894.7 143.1 L1894.7 180.6 L1945.8 180.6" fill="none" stroke="#0000ff" stroke-width="2.3" stroke-linejoin="miter"/>
<path d="M1434.4 398.7 L1587.8 398.7 L1587.8 416.6 L1638.9 416.6 L1638.9 432.9 L1690.1 432.9 L1690.1 463.5 L1741.2 463.5 L1741.2 437.4 L1792.4 437.4 L1792.4 334.4 L1843.5 334.4 L1843.5 269.2 L1894.7 269.2 L1894.7 301.4 L1945.8 301.4" fill="none" stroke="#0000ff" stroke-width="2.3" stroke-linejoin="miter"/>
<path d="M1434.4 311.8 L1587.8 311.8 L1587.8 333.3 L1638.9 333.3 L1638.9 363.6 L1690.1 363.6 L1690.1 401.2 L1741.2 401.2 L1741.2 379.6 L1792.4 379.6 L1792.4 281.2 L1843.5 281.2 L1843.5 205.4 L1894.7 205.4 L1894.7 241.2 L1945.8 241.2" fill="none" stroke="#0000ff" stroke-width="7.3" stroke-linejoin="miter"/>
<path d="M1435 519.6 L1435 518 L1435.1 516.2 L1435.3 514.4 L1435.5 512.5 L1435.8 510.6 L1436.2 508.6 L1436.6 506.5 L1437.1 504.4 L1437.6 502.3 L1438.2 500 L1438.9 497.8 L1439.6 495.5 L1440.4 493.1 L1441.3 490.7 L1442.2 488.3 L1443.2 485.8 L1444.3 483.3 L1445.4 480.8 L1446.6 478.3 L1447.8 475.7 L1449.2 473.1 L1450.5 470.5 L1452 467.9 L1453.5 465.3 L1455.1 462.7 L1456.7 460 L1458.4 457.4 L1460.2 454.7 L1462 452.1 L1463.9 449.4 L1465.8 446.7 L1467.9 444 L1470 441.4 L1472.1 438.7 L1474.3 436 L1476.6 433.4 L1478.9 430.7 L1481.3 428 L1483.8 425.4 L1486.4 422.8 L1489 420.1 L1491.6 417.5 L1494.3 414.9 L1497.1 412.3 L1500 409.7 L1502.9 407.1 L1505.9 404.5 L1508.9 401.9 L1512.1 399.3 L1515.2 396.7 L1518.5 394.1 L1521.8 391.5 L1525.2 388.9 L1528.6 386.3 L1532.1 383.7 L1535.7 381.1 L1539.3 378.5 L1543 375.9 L1546.7 373.3 L1550.5 370.7 L1554.4 368 L1558.4 365.4 L1562.4 362.8 L1566.5 360.1 L1570.6 357.4 L1574.8 354.7 L1579.1 352 L1583.4 349.3 L1587.8 346.6 L1590.4 347 L1592.9 347.1 L1595.5 347.2 L1598 347.1 L1600.4 346.6 L1602.9 345.9 L1605.3 345 L1607.7 344 L1610.1 343 L1612.6 342.1 L1615 341.2 L1617.3 340.2 L1619.7 339.2 L1622 338.2 L1624.4 337.3 L1626.8 336.3 L1629.1 335.4 L1631.5 334.5 L1634 333.6 L1636.4 332.8 L1638.8 332 L1640.5 334.1 L1642.4 335.8 L1644.5 336.9 L1646.8 337.7 L1649.3 338.3 L1651.9 338.7 L1654.4 338.8 L1656.9 338.9 L1659.5 338.9 L1662 339 L1664.5 339 L1667.1 339 L1669.6 339 L1672.1 339 L1674.6 338.8 L1677.1 338.6 L1679.6 338.2 L1682.1 337.9 L1684.6 337.4 L1687.1 336.9 L1689.6 336.4 L1690.9 338.7 L1692.3 340.9 L1693.9 342.8 L1695.6 344.3 L1697.7 345.6 L1699.9 346.8 L1702.3 347.8 L1704.7 348.8 L1707.1 349.6 L1709.5 350.4 L1711.9 351.2 L1714.3 351.9 L1716.7 352.6 L1719.2 353.2 L1721.6 353.8 L1724.1 354.3 L1726.5 354.8 L1729 355.3 L1731.5 355.8 L1733.9 356.3 L1736.4 356.7 L1738.9 357.1 L1741.4 357.4 L1743.1 355.3 L1744.9 353.4 L1747 352.2 L1749.2 351.4 L1751.6 350.7 L1754.2 350.1 L1756.8 349.5 L1759.4 349.1 L1762 348.7 L1764.5 348.3 L1767 347.9 L1769.6 347.6 L1772.1 347.4 L1774.7 347.1 L1777.2 346.8 L1779.8 346.5 L1782.3 346.1 L1784.9 345.8 L1787.4 345.5 L1790 345.2 L1792.5 344.9 L1792.9 342.4 L1793.5 339.9 L1794 337.5 L1794.7 335.1 L1795.4 332.7 L1796.1 330.3 L1796.9 327.9 L1797.9 325.6 L1798.9 323.3 L1800 321 L1801.1 318.7 L1802.1 316.5 L1803.2 314.2 L1804.3 311.9 L1805.4 309.7 L1806.6 307.4 L1807.7 305.2 L1808.9 303 L1810.2 300.8 L1811.5 298.7 L1812.8 296.6 L1814.2 294.5 L1815.7 292.4 L1817.1 290.4 L1818.7 288.4 L1820.2 286.4 L1821.8 284.5 L1823.5 282.6 L1825.2 280.7 L1826.9 278.9 L1828.6 277.1 L1830.4 275.3 L1832.2 273.5 L1834 271.8 L1835.9 270.1 L1837.8 268.5 L1839.7 266.9 L1841.7 265.3 L1843.7 263.8 L1844.2 261.3 L1844.7 258.9 L1845.2 256.4 L1845.8 253.9 L1846.4 251.5 L1847 249.1 L1847.6 246.7 L1848.3 244.2 L1849 241.8 L1849.8 239.4 L1850.5 237 L1851.4 234.6 L1852.2 232.3 L1853.1 229.9 L1854.1 227.6 L1855.1 225.4 L1856.3 223.1 L1857.4 220.9 L1858.6 218.7 L1859.8 216.4 L1861 214.2 L1862.1 211.9 L1863.2 209.7 L1864.3 207.4 L1865.4 205.1 L1866.5 202.9 L1867.7 200.7 L1868.9 198.5 L1870.1 196.3 L1871.5 194.2 L1872.9 192.1 L1874.3 190 L1875.6 187.8 L1876.9 185.7 L1878.2 183.5 L1879.6 181.4 L1881 179.4 L1882.5 177.3 L1883.9 175.3 L1885.4 173.2 L1886.8 171.2 L1888.3 169.1 L1889.8 167.1 L1891.3 165.1 L1892.9 163.2 L1894.6 161.3 L1897 162.4 L1899.5 162.1 L1901.9 161.3 L1904.3 160.2 L1906.5 159 L1908.7 157.7 L1910.8 156.2 L1912.9 154.8 L1915 153.3 L1917.1 151.9 L1919.2 150.4 L1921.3 148.9 L1923.4 147.4 L1925.5 145.9 L1927.5 144.4 L1929.6 142.9 L1931.7 141.3 L1933.7 139.8 L1935.8 138.3 L1937.8 136.8 L1939.9 135.2 L1941.9 133.7 L1944 132.1 L1946 130.6" fill="none" stroke="#ff0000" stroke-width="5.0" stroke-linejoin="round" stroke-linecap="butt"/>
<path d="M1587.8 346.6 L1590.8 344.8 L1593.8 342.9 L1596.8 341.1 L1599.8 339.3 L1602.8 337.5 L1605.9 335.7 L1608.9 333.9 L1611.9 332.1 L1614.9 330.4 L1617.9 328.7 L1620.9 326.9 L1623.9 325.2 L1626.9 323.5 L1629.9 321.8 L1632.9 320.1 L1635.9 318.4 L1638.9 316.8 L1642 315.1 L1645 313.5 L1648 311.8 L1651 310.2 L1654 308.6 L1657 307 L1660 305.4 L1663 303.8 L1666 302.2 L1669 300.7 L1672 299.1 L1675.1 297.6 L1678.1 296 L1681.1 294.5 L1684.1 293 L1687.1 291.5 L1690.1 290 L1693.1 288.5 L1696.1 287 L1699.1 285.6 L1702.1 284.1 L1705.1 282.6 L1708.1 281.2 L1711.2 279.8 L1714.2 278.3 L1717.2 276.9 L1720.2 275.5 L1723.2 274.1 L1726.2 272.7 L1729.2 271.3 L1732.2 270 L1735.2 268.6 L1738.2 267.3 L1741.2 265.9 L1744.2 264.6 L1747.3 263.2 L1750.3 261.9 L1753.3 260.6 L1756.3 259.3 L1759.3 258 L1762.3 256.7 L1765.3 255.4 L1768.3 254.1 L1771.3 252.9 L1774.3 251.6 L1777.3 250.4 L1780.4 249.1 L1783.4 247.9 L1786.4 246.7 L1789.4 245.5 L1792.4 244.2 L1795.4 243 L1798.4 241.8 L1801.4 240.7 L1804.4 239.5 L1807.4 238.3 L1810.4 237.1 L1813.4 236 L1816.5 234.8 L1819.5 233.7 L1822.5 232.6 L1825.5 231.4 L1828.5 230.3 L1831.5 229.2 L1834.5 228.1 L1837.5 227 L1840.5 225.9 L1843.5 224.8 L1846.5 223.7 L1849.5 222.7 L1852.6 221.6 L1855.6 220.6 L1858.6 219.5 L1861.6 218.5 L1864.6 217.4 L1867.6 216.4 L1870.6 215.4 L1873.6 214.4 L1876.6 213.4 L1879.6 212.4 L1882.6 211.4 L1885.6 210.4 L1888.7 209.4 L1891.7 208.4 L1894.7 207.5 L1897.7 206.5 L1900.7 205.6 L1903.7 204.6 L1906.7 203.7 L1909.7 202.7 L1912.7 201.8 L1915.7 200.9 L1918.7 200 L1921.8 199.1 L1924.8 198.2 L1927.8 197.3 L1930.8 196.4 L1933.8 195.5 L1936.8 194.7 L1939.8 193.8 L1942.8 192.9 L1945.8 192.1" fill="none" stroke="#ff0000" stroke-width="5.0" stroke-dasharray="47.8 28.9" stroke-dashoffset="8.5"/>
</g>
<path d="M1945.8 32.4 V521.6 M1945.8 490 h-6 M1945.8 337.9 h-6 M1945.8 185.7 h-6 M1945.8 33.6 h-6 " stroke="#D8480A" stroke-width="2.2" fill="none"/>
<g font-family='"Liberation Sans", sans-serif' font-size="35.6">
<text transform="translate(1433.8 560.7) scale(0.955 1)" text-anchor="middle" fill="#0a0a0a">25</text>
<text transform="translate(1536.1 560.7) scale(0.955 1)" text-anchor="middle" fill="#0a0a0a">20</text>
<text transform="translate(1638.3 560.7) scale(0.955 1)" text-anchor="middle" fill="#0a0a0a">15</text>
<text transform="translate(1740.6 560.7) scale(0.955 1)" text-anchor="middle" fill="#0a0a0a">10</text>
<text transform="translate(1842.9 560.7) scale(0.955 1)" text-anchor="middle" fill="#0a0a0a">5</text>
<text transform="translate(1945.2 560.7) scale(0.955 1)" text-anchor="middle" fill="#0a0a0a">0</text>
<text transform="translate(1424 464.1) scale(0.955 1)" text-anchor="end" fill="#0066B7">0</text>
<text transform="translate(1424 394.5) scale(0.955 1)" text-anchor="end" fill="#0066B7">0.2</text>
<text transform="translate(1424 325) scale(0.955 1)" text-anchor="end" fill="#0066B7">0.4</text>
<text transform="translate(1424 255.4) scale(0.955 1)" text-anchor="end" fill="#0066B7">0.6</text>
<text transform="translate(1424 185.9) scale(0.955 1)" text-anchor="end" fill="#0066B7">0.8</text>
<text transform="translate(1424 116.3) scale(0.955 1)" text-anchor="end" fill="#0066B7">1</text>
<text transform="translate(1951.7 502.9) scale(0.955 1)" text-anchor="start" fill="#D8480A">25</text>
<text transform="translate(1951.7 350.8) scale(0.955 1)" text-anchor="start" fill="#D8480A">30</text>
<text transform="translate(1951.7 198.6) scale(0.955 1)" text-anchor="start" fill="#D8480A">35</text>
<text transform="translate(1951.7 46.5) scale(0.955 1)" text-anchor="start" fill="#D8480A">40</text>
</g>
<g font-family='"Liberation Sans", sans-serif' font-size="31.8" fill="#000">
<text transform="translate(1471.2 79.1) scale(0.9623 1)" word-spacing="0.83">(c) e0 = 0.4</text>
<text x="1627" y="79.4" font-family='"DejaVu Sans", sans-serif' font-weight="200" font-size="33.2">±</text>
<text transform="translate(1652 79.1) scale(0.9623 1)">0.25</text>
<text transform="translate(1472.5 120.4) skewX(-10) scale(1.2 1)" font-family='"Liberation Serif", "DejaVu Serif", serif' font-style="italic" font-size="32.5" stroke="#fff" stroke-width="0.25">ϕ</text>
<text transform="translate(1492.7 133.2) scale(1.42 1)" font-family='"Liberation Serif", "DejaVu Serif", serif' font-style="italic" font-size="24.4" stroke="#fff" stroke-width="0.12">τ</text>
<text x="1504.6" y="133.2" font-style="italic" font-size="24.5">,</text>
<text x="1519" y="133.2" font-style="italic" font-size="24.5" letter-spacing="1.3">pr</text>
<text transform="translate(1549.4 120.4) scale(0.9623 1)">=</text>
<text transform="translate(1576.3 120.4) scale(0.9623 1)">6.35,</text>
<text transform="translate(1657.8 120.4) skewX(-10) scale(1.2 1)" font-family='"Liberation Serif", "DejaVu Serif", serif' font-style="italic" font-size="32.5" stroke="#fff" stroke-width="0.25">ϕ</text>
<text transform="translate(1678 133.2) scale(1.42 1)" font-family='"Liberation Serif", "DejaVu Serif", serif' font-style="italic" font-size="24.4" stroke="#fff" stroke-width="0.12">τ</text>
<text x="1689.9" y="133.2" font-style="italic" font-size="24.5">,</text>
<text x="1704.3" y="133.2" font-style="italic" font-size="24.5" letter-spacing="1.3">po</text>
<text transform="translate(1743.7 120.4) scale(0.9623 1)">=</text>
<text transform="translate(1770.6 120.4) scale(0.9623 1)">1.58</text>
<text transform="translate(1472.5 174.4) skewX(-10) scale(1.2 1)" font-family='"Liberation Serif", "DejaVu Serif", serif' font-style="italic" font-size="32.5" stroke="#fff" stroke-width="0.25">ϕ</text>
<text transform="translate(1492.7 187.2) scale(1.4 1)" font-family='"Liberation Serif", "DejaVu Serif", serif' font-style="italic" font-size="24.0" stroke="#fff" stroke-width="0.12">γ</text>
<text x="1507.5" y="187.2" font-style="italic" font-size="24.5">,</text>
<text x="1523.4" y="187.2" font-style="italic" font-size="24.5" letter-spacing="1.3">pr</text>
<text transform="translate(1553.8 174.4) scale(0.9623 1)">=</text>
<text transform="translate(1580.8 174.4) scale(0.9623 1)">1.06,</text>
<text transform="translate(1662.2 174.4) skewX(-10) scale(1.2 1)" font-family='"Liberation Serif", "DejaVu Serif", serif' font-style="italic" font-size="32.5" stroke="#fff" stroke-width="0.25">ϕ</text>
<text transform="translate(1682.4 187.2) scale(1.4 1)" font-family='"Liberation Serif", "DejaVu Serif", serif' font-style="italic" font-size="24.0" stroke="#fff" stroke-width="0.12">γ</text>
<text x="1697.2" y="187.2" font-style="italic" font-size="24.5">,</text>
<text x="1713.1" y="187.2" font-style="italic" font-size="24.5" letter-spacing="1.3">po</text>
<text transform="translate(1752.5 174.4) scale(0.9623 1)">=</text>
<text transform="translate(1779.4 174.4) scale(0.9623 1)">0.53</text>
</g>
</g>
<g>
<path d="M126.5 605 H637.9 M126.5 1089.8 H637.9" stroke="#0a0a0a" stroke-width="2.2" fill="none"/>
<path d="M126.5 1089.8 v-6 M126.5 605 v6 M228.8 1089.8 v-6 M228.8 605 v6 M331 1089.8 v-6 M331 605 v6 M433.3 1089.8 v-6 M433.3 605 v6 M535.6 1089.8 v-6 M535.6 605 v6 M637.9 1089.8 v-6 M637.9 605 v6 " stroke="#0a0a0a" stroke-width="2.2" fill="none"/>
<path d="M126.5 603.9 V1090.8 M126.5 1089.8 h6 M126.5 1020.5 h6 M126.5 951.3 h6 M126.5 882 h6 M126.5 812.8 h6 M126.5 743.5 h6 M126.5 674.3 h6 " stroke="#0066B7" stroke-width="2.2" fill="none"/>
<clipPath id="clip_d"><rect x="126.2" y="604.8" width="512" height="485.3"/></clipPath>
<g clip-path="url(#clip_d)">
<path d="M126.5 726.2 L279.9 726.2 L279.9 768.9 L331 768.9 L331 837.1 L382.2 837.1 L382.2 887 L433.3 887 L433.3 874.3 L484.5 874.3 L484.5 806.5 L535.6 806.5 L535.6 737.4 L586.8 737.4 L586.8 762.2 L637.9 762.2" fill="none" stroke="#0000ff" stroke-width="2.3" stroke-linejoin="miter"/>
<path d="M126.5 899.3 L279.9 899.3 L279.9 935.9 L331 935.9 L331 980.5 L382.2 980.5 L382.2 1018.9 L433.3 1018.9 L433.3 997.8 L484.5 997.8 L484.5 923.2 L535.6 923.2 L535.6 864.2 L586.8 864.2 L586.8 885.4 L637.9 885.4" fill="none" stroke="#0000ff" stroke-width="2.3" stroke-linejoin="miter"/>
<path d="M126.5 812.8 L279.9 812.8 L279.9 852.1 L331 852.1 L331 908.3 L382.2 908.3 L382.2 953.3 L433.3 953.3 L433.3 936.7 L484.5 936.7 L484.5 864.7 L535.6 864.7 L535.6 801.2 L586.8 801.2 L586.8 823.5 L637.9 823.5" fill="none" stroke="#0000ff" stroke-width="7.3" stroke-linejoin="miter"/>
<path d="M127.2 1012.5 L127.2 1010.8 L127.3 1009 L127.5 1007.1 L127.7 1005.3 L128 1003.3 L128.4 1001.4 L128.8 999.3 L129.3 997.3 L129.8 995.2 L130.4 993 L131.1 990.9 L131.8 988.7 L132.6 986.4 L133.5 984.2 L134.4 981.9 L135.4 979.5 L136.5 977.2 L137.6 974.8 L138.8 972.4 L140 970 L141.3 967.5 L142.7 965.1 L144.2 962.6 L145.7 960.1 L147.2 957.6 L148.9 955.1 L150.6 952.5 L152.3 950 L154.2 947.4 L156.1 944.9 L158 942.3 L160 939.7 L162.1 937.1 L164.3 934.5 L166.5 931.9 L168.8 929.3 L171.1 926.7 L173.5 924.1 L176 921.4 L178.5 918.8 L181.1 916.2 L183.8 913.6 L186.5 910.9 L189.3 908.3 L192.2 905.7 L195.1 903 L198.1 900.4 L201.1 897.7 L204.2 895.1 L207.4 892.4 L210.6 889.8 L213.9 887.1 L217.3 884.4 L220.7 881.7 L224.2 879 L227.8 876.3 L231.4 873.6 L235.1 870.9 L238.9 868.2 L242.7 865.4 L246.5 862.7 L250.5 859.9 L254.5 857.2 L258.6 854.4 L262.7 851.6 L266.9 848.8 L271.2 846 L275.5 843.2 L279.9 840.4 L282.4 841.2 L284.9 841.8 L287.4 842.2 L289.9 842.3 L292.4 842.1 L294.9 841.7 L297.3 841.2 L299.8 840.5 L302.3 839.7 L304.8 838.9 L307.2 838.1 L309.7 837.4 L312.1 836.7 L314.5 835.9 L316.9 835.2 L319.4 834.4 L321.8 833.5 L324.2 832.7 L326.5 831.8 L328.9 830.8 L331.3 829.9 L332.3 832.5 L333.6 834.8 L335.1 836.4 L337 837.5 L339.2 838.4 L341.8 839.1 L344.4 839.7 L347.1 840.2 L349.6 840.5 L352.1 840.8 L354.6 841.1 L357.1 841.3 L359.6 841.5 L362.1 841.6 L364.7 841.7 L367.2 841.8 L369.7 841.9 L372.2 842 L374.7 842 L377.3 842.1 L379.8 842.1 L382.3 842.1 L384 844.1 L385.8 846 L387.7 847.7 L389.7 849.1 L391.8 850.2 L394 851.2 L396.3 852.2 L398.7 853 L401.2 853.8 L403.7 854.5 L406.2 855.2 L408.6 855.9 L411.1 856.5 L413.5 857.1 L416 857.7 L418.4 858.2 L420.9 858.7 L423.4 859.2 L425.9 859.7 L428.4 860.1 L430.9 860.5 L433.4 860.8 L435.8 859.8 L438.3 859 L440.8 858.7 L443.3 858.5 L445.9 858.3 L448.5 858.2 L451.1 858.1 L453.7 858 L456.2 857.9 L458.8 857.8 L461.4 857.7 L464 857.7 L466.6 857.6 L469.1 857.5 L471.7 857.4 L474.3 857.4 L476.9 857.3 L479.4 857.3 L482 857.2 L484.6 857.2 L485.4 854.7 L486.3 852.2 L487.4 849.9 L488.6 847.8 L490 845.8 L491.6 843.9 L493.4 842.1 L495.4 840.4 L497.5 838.8 L499.5 837.3 L501.5 835.8 L503.6 834.3 L505.7 832.8 L507.9 831.5 L510.1 830.2 L512.3 828.9 L514.5 827.8 L516.8 826.7 L519.1 825.6 L521.4 824.6 L523.7 823.6 L526.1 822.6 L528.5 821.7 L530.9 820.9 L533.3 820.1 L535.8 819.4 L536.7 817 L537.7 814.7 L538.8 812.4 L539.9 810.1 L541.1 807.9 L542.4 805.8 L543.7 803.7 L545.1 801.6 L546.6 799.5 L548.2 797.5 L549.8 795.5 L551.4 793.6 L553.1 791.7 L554.8 789.9 L556.6 788.2 L558.4 786.4 L560.3 784.8 L562.2 783.1 L564.2 781.5 L566.2 779.9 L568.2 778.4 L570.2 776.8 L572.2 775.3 L574.2 773.9 L576.3 772.4 L578.4 771 L580.5 769.7 L582.6 768.3 L584.8 767 L587 765.7 L589.6 765.6 L592.2 765.4 L594.7 765.2 L597.2 764.8 L599.7 764.2 L602.1 763.4 L604.6 762.5 L607 761.5 L609.4 760.4 L611.7 759.3 L614.1 758.1 L616.5 757.1 L618.9 756.1 L621.3 755.1 L623.7 754.2 L626.2 753.3 L628.6 752.3 L631 751.4 L633.4 750.5 L635.8 749.5 L638.2 748.6" fill="none" stroke="#ff0000" stroke-width="5.0" stroke-linejoin="round" stroke-linecap="butt"/>
<path d="M279.9 840.4 L282.9 838.5 L285.9 836.6 L288.9 834.7 L291.9 832.8 L294.9 830.9 L298 829.1 L301 827.2 L304 825.4 L307 823.6 L310 821.8 L313 820 L316 818.2 L319 816.5 L322 814.7 L325 813 L328 811.2 L331 809.5 L334.1 807.8 L337.1 806.1 L340.1 804.4 L343.1 802.7 L346.1 801.1 L349.1 799.4 L352.1 797.8 L355.1 796.1 L358.1 794.5 L361.1 792.9 L364.1 791.3 L367.2 789.7 L370.2 788.1 L373.2 786.5 L376.2 785 L379.2 783.4 L382.2 781.9 L385.2 780.3 L388.2 778.8 L391.2 777.3 L394.2 775.8 L397.2 774.3 L400.2 772.8 L403.3 771.3 L406.3 769.8 L409.3 768.4 L412.3 766.9 L415.3 765.5 L418.3 764 L421.3 762.6 L424.3 761.2 L427.3 759.8 L430.3 758.4 L433.3 757 L436.3 755.6 L439.4 754.2 L442.4 752.8 L445.4 751.5 L448.4 750.1 L451.4 748.8 L454.4 747.4 L457.4 746.1 L460.4 744.8 L463.4 743.5 L466.4 742.1 L469.4 740.8 L472.5 739.6 L475.5 738.3 L478.5 737 L481.5 735.7 L484.5 734.5 L487.5 733.2 L490.5 732 L493.5 730.7 L496.5 729.5 L499.5 728.3 L502.5 727.1 L505.5 725.9 L508.6 724.7 L511.6 723.5 L514.6 722.3 L517.6 721.1 L520.6 719.9 L523.6 718.8 L526.6 717.6 L529.6 716.5 L532.6 715.3 L535.6 714.2 L538.6 713.1 L541.6 711.9 L544.7 710.8 L547.7 709.7 L550.7 708.6 L553.7 707.5 L556.7 706.4 L559.7 705.4 L562.7 704.3 L565.7 703.2 L568.7 702.1 L571.7 701.1 L574.7 700 L577.7 699 L580.8 698 L583.8 696.9 L586.8 695.9 L589.8 694.9 L592.8 693.9 L595.8 692.9 L598.8 691.9 L601.8 690.9 L604.8 689.9 L607.8 689 L610.8 688 L613.9 687 L616.9 686.1 L619.9 685.1 L622.9 684.2 L625.9 683.2 L628.9 682.3 L631.9 681.4 L634.9 680.5 L637.9 679.5" fill="none" stroke="#ff0000" stroke-width="5.0" stroke-dasharray="47.8 28.9" stroke-dashoffset="5.8"/>
</g>
<path d="M637.9 603.9 V1090.8 M637.9 992.8 h-6 M637.9 895.9 h-6 M637.9 798.9 h-6 M637.9 702 h-6 M637.9 605 h-6 M637.9 1089.8 h-6 " stroke="#D8480A" stroke-width="2.2" fill="none"/>
<g font-family='"Liberation Sans", sans-serif' font-size="35.6">
<text transform="translate(125.9 1129.5) scale(0.955 1)" text-anchor="middle" fill="#0a0a0a">25</text>
<text transform="translate(228.2 1129.5) scale(0.955 1)" text-anchor="middle" fill="#0a0a0a">20</text>
<text transform="translate(330.4 1129.5) scale(0.955 1)" text-anchor="middle" fill="#0a0a0a">15</text>
<text transform="translate(432.7 1129.5) scale(0.955 1)" text-anchor="middle" fill="#0a0a0a">10</text>
<text transform="translate(535 1129.5) scale(0.955 1)" text-anchor="middle" fill="#0a0a0a">5</text>
<text transform="translate(637.3 1129.5) scale(0.955 1)" text-anchor="middle" fill="#0a0a0a">0</text>
<text transform="translate(116.1 1033.7) scale(0.955 1)" text-anchor="end" fill="#0066B7">0</text>
<text transform="translate(116.1 964.5) scale(0.955 1)" text-anchor="end" fill="#0066B7">0.2</text>
<text transform="translate(116.1 895.2) scale(0.955 1)" text-anchor="end" fill="#0066B7">0.4</text>
<text transform="translate(116.1 826) scale(0.955 1)" text-anchor="end" fill="#0066B7">0.6</text>
<text transform="translate(116.1 756.7) scale(0.955 1)" text-anchor="end" fill="#0066B7">0.8</text>
<text transform="translate(116.1 687.5) scale(0.955 1)" text-anchor="end" fill="#0066B7">1</text>
<text transform="translate(643.8 1005.7) scale(0.955 1)" text-anchor="start" fill="#D8480A">25</text>
<text transform="translate(643.8 908.8) scale(0.955 1)" text-anchor="start" fill="#D8480A">30</text>
<text transform="translate(643.8 811.8) scale(0.955 1)" text-anchor="start" fill="#D8480A">35</text>
<text transform="translate(643.8 714.9) scale(0.955 1)" text-anchor="start" fill="#D8480A">40</text>
<text transform="translate(643.8 617.9) scale(0.955 1)" text-anchor="start" fill="#D8480A">45</text>
</g>
<g font-family='"Liberation Sans", sans-serif' font-size="31.8" fill="#000">
<text transform="translate(163.7 652.2) scale(0.9623 1)" word-spacing="0.83">(d) e0 = 0.6</text>
<text x="321.1" y="652.5" font-family='"DejaVu Sans", sans-serif' font-weight="200" font-size="33.2">±</text>
<text transform="translate(346.1 652.2) scale(0.9623 1)">0.25</text>
<text transform="translate(165 693.5) skewX(-10) scale(1.2 1)" font-family='"Liberation Serif", "DejaVu Serif", serif' font-style="italic" font-size="32.5" stroke="#fff" stroke-width="0.25">ϕ</text>
<text transform="translate(185.2 706.3) scale(1.42 1)" font-family='"Liberation Serif", "DejaVu Serif", serif' font-style="italic" font-size="24.4" stroke="#fff" stroke-width="0.12">τ</text>
<text x="197.1" y="706.3" font-style="italic" font-size="24.5">,</text>
<text x="211.5" y="706.3" font-style="italic" font-size="24.5" letter-spacing="1.3">pr</text>
<text transform="translate(241.9 693.5) scale(0.9623 1)">=</text>
<text transform="translate(268.8 693.5) scale(0.9623 1)">4.64,</text>
<text transform="translate(350.3 693.5) skewX(-10) scale(1.2 1)" font-family='"Liberation Serif", "DejaVu Serif", serif' font-style="italic" font-size="32.5" stroke="#fff" stroke-width="0.25">ϕ</text>
<text transform="translate(370.5 706.3) scale(1.42 1)" font-family='"Liberation Serif", "DejaVu Serif", serif' font-style="italic" font-size="24.4" stroke="#fff" stroke-width="0.12">τ</text>
<text x="382.4" y="706.3" font-style="italic" font-size="24.5">,</text>
<text x="396.8" y="706.3" font-style="italic" font-size="24.5" letter-spacing="1.3">po</text>
<text transform="translate(436.2 693.5) scale(0.9623 1)">=</text>
<text transform="translate(463.1 693.5) scale(0.9623 1)">1.71</text>
<text transform="translate(165 747.5) skewX(-10) scale(1.2 1)" font-family='"Liberation Serif", "DejaVu Serif", serif' font-style="italic" font-size="32.5" stroke="#fff" stroke-width="0.25">ϕ</text>
<text transform="translate(185.2 760.3) scale(1.4 1)" font-family='"Liberation Serif", "DejaVu Serif", serif' font-style="italic" font-size="24.0" stroke="#fff" stroke-width="0.12">γ</text>
<text x="200" y="760.3" font-style="italic" font-size="24.5">,</text>
<text x="215.9" y="760.3" font-style="italic" font-size="24.5" letter-spacing="1.3">pr</text>
<text transform="translate(246.3 747.5) scale(0.9623 1)">=</text>
<text transform="translate(273.2 747.5) scale(0.9623 1)">0.58,</text>
<text transform="translate(354.7 747.5) skewX(-10) scale(1.2 1)" font-family='"Liberation Serif", "DejaVu Serif", serif' font-style="italic" font-size="32.5" stroke="#fff" stroke-width="0.25">ϕ</text>
<text transform="translate(374.9 760.3) scale(1.4 1)" font-family='"Liberation Serif", "DejaVu Serif", serif' font-style="italic" font-size="24.0" stroke="#fff" stroke-width="0.12">γ</text>
<text x="389.7" y="760.3" font-style="italic" font-size="24.5">,</text>
<text x="405.6" y="760.3" font-style="italic" font-size="24.5" letter-spacing="1.3">po</text>
<text transform="translate(445 747.5) scale(0.9623 1)">=</text>
<text transform="translate(471.9 747.5) scale(0.9623 1)">0.33</text>
</g>
</g>
<g>
<path d="M780.4 605 H1291.9 M780.4 1089.8 H1291.9" stroke="#0a0a0a" stroke-width="2.2" fill="none"/>
<path d="M780.4 1089.8 v-6 M780.4 605 v6 M882.7 1089.8 v-6 M882.7 605 v6 M985 1089.8 v-6 M985 605 v6 M1087.3 1089.8 v-6 M1087.3 605 v6 M1189.6 1089.8 v-6 M1189.6 605 v6 M1291.9 1089.8 v-6 M1291.9 605 v6 " stroke="#0a0a0a" stroke-width="2.2" fill="none"/>
<path d="M780.4 603.9 V1090.8 M780.4 1089.8 h6 M780.4 1020.5 h6 M780.4 951.3 h6 M780.4 882 h6 M780.4 812.8 h6 M780.4 743.5 h6 M780.4 674.3 h6 " stroke="#0066B7" stroke-width="2.2" fill="none"/>
<clipPath id="clip_e"><rect x="780.1" y="604.8" width="512" height="485.3"/></clipPath>
<g clip-path="url(#clip_e)">
<path d="M780.4 691.6 L933.9 691.6 L933.9 741.5 L985 741.5 L985 819.5 L1036.1 819.5 L1036.1 875.3 L1087.3 875.3 L1087.3 875.4 L1138.4 875.4 L1138.4 807.9 L1189.6 807.9 L1189.6 743.3 L1240.7 743.3 L1240.7 766.2 L1291.9 766.2" fill="none" stroke="#0000ff" stroke-width="2.3" stroke-linejoin="miter"/>
<path d="M780.4 864.7 L933.9 864.7 L933.9 908.4 L985 908.4 L985 965.6 L1036.1 965.6 L1036.1 1010.2 L1087.3 1010.2 L1087.3 1002.6 L1138.4 1002.6 L1138.4 927.9 L1189.6 927.9 L1189.6 870.8 L1240.7 870.8 L1240.7 890.1 L1291.9 890.1" fill="none" stroke="#0000ff" stroke-width="2.3" stroke-linejoin="miter"/>
<path d="M780.4 778.2 L933.9 778.2 L933.9 824.9 L985 824.9 L985 892.7 L1036.1 892.7 L1036.1 942.9 L1087.3 942.9 L1087.3 938.9 L1138.4 938.9 L1138.4 867.8 L1189.6 867.8 L1189.6 807.1 L1240.7 807.1 L1240.7 828 L1291.9 828" fill="none" stroke="#0000ff" stroke-width="7.3" stroke-linejoin="miter"/>
<path d="M781 1011.9 L781 1010.3 L781.1 1008.7 L781.3 1006.9 L781.5 1005.1 L781.8 1003.2 L782.2 1001.2 L782.6 999.1 L783.1 997 L783.6 994.7 L784.2 992.4 L784.9 990.1 L785.6 987.6 L786.4 985.1 L787.3 982.6 L788.2 980 L789.2 977.3 L790.3 974.6 L791.4 971.8 L792.6 969 L793.8 966.1 L795.2 963.2 L796.5 960.2 L798 957.2 L799.5 954.2 L801.1 951.1 L802.7 948 L804.4 944.9 L806.2 941.8 L808 938.6 L809.9 935.4 L811.9 932.2 L813.9 929 L816 925.7 L818.1 922.5 L820.3 919.2 L822.6 915.9 L825 912.7 L827.4 909.4 L829.8 906.1 L832.4 902.8 L835 899.6 L837.6 896.3 L840.4 893 L843.2 889.8 L846 886.5 L848.9 883.2 L851.9 880 L855 876.7 L858.1 873.4 L861.3 870.2 L864.5 866.9 L867.8 863.7 L871.2 860.4 L874.6 857.2 L878.1 854 L881.7 850.7 L885.3 847.5 L889 844.3 L892.8 841 L896.6 837.8 L900.5 834.6 L904.4 831.3 L908.4 828.1 L912.5 824.8 L916.6 821.5 L920.9 818.2 L925.1 814.9 L929.5 811.6 L933.9 808.3 L936.3 809.6 L938.8 810.6 L941.2 811.1 L943.7 811.1 L946.3 810.8 L948.8 810.1 L951.4 809.3 L953.9 808.6 L956.4 807.8 L958.8 806.9 L961.2 806 L963.6 805 L966 804 L968.4 802.9 L970.8 801.9 L973.2 800.9 L975.6 799.9 L978 798.9 L980.4 797.8 L982.8 796.8 L985.2 795.8 L986.1 798.5 L987.3 800.9 L988.7 802.9 L990.4 804.5 L992.6 806 L995.1 807.3 L997.6 808.2 L1000 808.9 L1002.5 809.4 L1005.1 809.9 L1007.7 810.3 L1010.3 810.7 L1012.9 810.9 L1015.5 811.1 L1018.1 811.2 L1020.7 811.4 L1023.3 811.5 L1025.9 811.6 L1028.5 811.7 L1031.1 811.7 L1033.7 811.8 L1036.3 811.8 L1037.6 814.1 L1039 816.3 L1040.6 818.2 L1042.3 819.9 L1044.2 821.3 L1046.3 822.7 L1048.5 824 L1050.8 825.2 L1053.2 826.3 L1055.6 827.3 L1058 828.3 L1060.3 829.2 L1062.7 830 L1065.1 830.8 L1067.5 831.5 L1069.9 832.2 L1072.4 832.8 L1074.9 833.4 L1077.4 834 L1079.8 834.5 L1082.3 835 L1084.8 835.4 L1087.3 835.8 L1089.8 836 L1092.4 836.2 L1094.9 836.3 L1097.5 836.5 L1100 836.7 L1102.6 836.8 L1105.1 837 L1107.7 837.2 L1110.2 837.3 L1112.8 837.5 L1115.3 837.7 L1117.9 837.8 L1120.4 838 L1123 838.1 L1125.5 838.3 L1128.1 838.4 L1130.6 838.6 L1133.2 838.7 L1135.7 838.9 L1138.3 839 L1139.1 836.4 L1140.1 833.9 L1141.3 831.6 L1142.6 829.5 L1144 827.5 L1145.7 825.7 L1147.6 824 L1149.8 822.5 L1152 821 L1154.2 819.6 L1156.4 818.2 L1158.7 817 L1160.9 815.8 L1163.3 814.6 L1165.6 813.5 L1168 812.5 L1170.4 811.5 L1172.7 810.5 L1175.1 809.6 L1177.5 808.6 L1180 807.8 L1182.4 806.9 L1184.8 806.1 L1187.3 805.3 L1189.8 804.6 L1190.6 802.1 L1191.5 799.7 L1192.5 797.3 L1193.5 794.9 L1194.7 792.7 L1195.9 790.5 L1197.2 788.3 L1198.7 786.3 L1200.3 784.2 L1202 782.2 L1203.7 780.3 L1205.5 778.4 L1207.2 776.5 L1209 774.7 L1210.8 772.8 L1212.7 771 L1214.6 769.2 L1216.5 767.5 L1218.5 765.9 L1220.5 764.3 L1222.6 762.9 L1224.7 761.5 L1226.9 760.2 L1229.1 758.9 L1231.4 757.7 L1233.7 756.6 L1236 755.5 L1238.4 754.5 L1240.9 753.6 L1243.5 753.5 L1246 753.3 L1248.6 753.1 L1251 752.7 L1253.5 752.1 L1255.9 751.3 L1258.3 750.3 L1260.6 749.2 L1263 748.1 L1265.4 747 L1267.7 746 L1270.1 745.1 L1272.6 744.3 L1275 743.5 L1277.4 742.6 L1279.8 741.8 L1282.2 741 L1284.7 740.2 L1287.1 739.4 L1289.6 738.7 L1292 737.9" fill="none" stroke="#ff0000" stroke-width="5.0" stroke-linejoin="round" stroke-linecap="butt"/>
<path d="M933.9 808.3 L936.9 806 L939.9 803.8 L942.9 801.5 L945.9 799.3 L948.9 797.1 L951.9 794.9 L954.9 792.7 L957.9 790.6 L960.9 788.4 L963.9 786.2 L966.9 784.1 L970 782 L973 779.9 L976 777.8 L979 775.7 L982 773.6 L985 771.5 L988 769.5 L991 767.4 L994 765.4 L997 763.3 L1000 761.3 L1003.1 759.3 L1006.1 757.3 L1009.1 755.3 L1012.1 753.3 L1015.1 751.4 L1018.1 749.4 L1021.1 747.4 L1024.1 745.5 L1027.1 743.6 L1030.1 741.6 L1033.1 739.7 L1036.1 737.8 L1039.2 735.9 L1042.2 734 L1045.2 732.2 L1048.2 730.3 L1051.2 728.5 L1054.2 726.6 L1057.2 724.8 L1060.2 723 L1063.2 721.1 L1066.2 719.3 L1069.2 717.6 L1072.2 715.8 L1075.3 714 L1078.3 712.2 L1081.3 710.5 L1084.3 708.8 L1087.3 707 L1090.3 705.3 L1093.3 703.6 L1096.3 701.9 L1099.3 700.2 L1102.3 698.6 L1105.3 696.9 L1108.3 695.3 L1111.4 693.6 L1114.4 692 L1117.4 690.4 L1120.4 688.8 L1123.4 687.2 L1126.4 685.6 L1129.4 684 L1132.4 682.4 L1135.4 680.9 L1138.4 679.3 L1141.4 677.8 L1144.5 676.3 L1147.5 674.7 L1150.5 673.2 L1153.5 671.7 L1156.5 670.2 L1159.5 668.8 L1162.5 667.3 L1165.5 665.8 L1168.5 664.4 L1171.5 662.9 L1174.5 661.5 L1177.5 660.1 L1180.6 658.7 L1183.6 657.3 L1186.6 655.9 L1189.6 654.5 L1192.6 653.1 L1195.6 651.7 L1198.6 650.4 L1201.6 649 L1204.6 647.7 L1207.6 646.3 L1210.6 645 L1213.6 643.7 L1216.7 642.4 L1219.7 641 L1222.7 639.8 L1225.7 638.5 L1228.7 637.2 L1231.7 635.9 L1234.7 634.7 L1237.7 633.4 L1240.7 632.1 L1243.7 630.9 L1246.7 629.7 L1249.8 628.5 L1252.8 627.2 L1255.8 626 L1258.8 624.8 L1261.8 623.6 L1264.8 622.5 L1267.8 621.3 L1270.8 620.1 L1273.8 618.9 L1276.8 617.8 L1279.8 616.6 L1282.8 615.5 L1285.9 614.4 L1288.9 613.2 L1291.9 612.1" fill="none" stroke="#ff0000" stroke-width="5.0" stroke-dasharray="47.8 28.9" stroke-dashoffset="30.4"/>
</g>
<path d="M1291.9 603.9 V1090.8 M1291.9 992.8 h-6 M1291.9 895.9 h-6 M1291.9 798.9 h-6 M1291.9 702 h-6 M1291.9 605 h-6 M1291.9 1089.8 h-6 " stroke="#D8480A" stroke-width="2.2" fill="none"/>
<g font-family='"Liberation Sans", sans-serif' font-size="35.6">
<text transform="translate(779.8 1129.5) scale(0.955 1)" text-anchor="middle" fill="#0a0a0a">25</text>
<text transform="translate(882.1 1129.5) scale(0.955 1)" text-anchor="middle" fill="#0a0a0a">20</text>
<text transform="translate(984.4 1129.5) scale(0.955 1)" text-anchor="middle" fill="#0a0a0a">15</text>
<text transform="translate(1086.7 1129.5) scale(0.955 1)" text-anchor="middle" fill="#0a0a0a">10</text>
<text transform="translate(1189 1129.5) scale(0.955 1)" text-anchor="middle" fill="#0a0a0a">5</text>
<text transform="translate(1291.3 1129.5) scale(0.955 1)" text-anchor="middle" fill="#0a0a0a">0</text>
<text transform="translate(770 1033.7) scale(0.955 1)" text-anchor="end" fill="#0066B7">0</text>
<text transform="translate(770 964.5) scale(0.955 1)" text-anchor="end" fill="#0066B7">0.2</text>
<text transform="translate(770 895.2) scale(0.955 1)" text-anchor="end" fill="#0066B7">0.4</text>
<text transform="translate(770 826) scale(0.955 1)" text-anchor="end" fill="#0066B7">0.6</text>
<text transform="translate(770 756.7) scale(0.955 1)" text-anchor="end" fill="#0066B7">0.8</text>
<text transform="translate(770 687.5) scale(0.955 1)" text-anchor="end" fill="#0066B7">1</text>
<text transform="translate(1297.8 1005.7) scale(0.955 1)" text-anchor="start" fill="#D8480A">25</text>
<text transform="translate(1297.8 908.8) scale(0.955 1)" text-anchor="start" fill="#D8480A">30</text>
<text transform="translate(1297.8 811.8) scale(0.955 1)" text-anchor="start" fill="#D8480A">35</text>
<text transform="translate(1297.8 714.9) scale(0.955 1)" text-anchor="start" fill="#D8480A">40</text>
<text transform="translate(1297.8 617.9) scale(0.955 1)" text-anchor="start" fill="#D8480A">45</text>
</g>
<g font-family='"Liberation Sans", sans-serif' font-size="31.8" fill="#000">
<text transform="translate(815.6 652.2) scale(0.9623 1)" word-spacing="0.83">(e) e0 = 0.7</text>
<text x="973.1" y="652.5" font-family='"DejaVu Sans", sans-serif' font-weight="200" font-size="33.2">±</text>
<text transform="translate(998.1 652.2) scale(0.9623 1)">0.25</text>
<text transform="translate(816.9 693.5) skewX(-10) scale(1.2 1)" font-family='"Liberation Serif", "DejaVu Serif", serif' font-style="italic" font-size="32.5" stroke="#fff" stroke-width="0.25">ϕ</text>
<text transform="translate(837.1 706.3) scale(1.42 1)" font-family='"Liberation Serif", "DejaVu Serif", serif' font-style="italic" font-size="24.4" stroke="#fff" stroke-width="0.12">τ</text>
<text x="849" y="706.3" font-style="italic" font-size="24.5">,</text>
<text x="863.4" y="706.3" font-style="italic" font-size="24.5" letter-spacing="1.3">pr</text>
<text transform="translate(893.8 693.5) scale(0.9623 1)">=</text>
<text transform="translate(920.7 693.5) scale(0.9623 1)">5.32,</text>
<text transform="translate(1002.2 693.5) skewX(-10) scale(1.2 1)" font-family='"Liberation Serif", "DejaVu Serif", serif' font-style="italic" font-size="32.5" stroke="#fff" stroke-width="0.25">ϕ</text>
<text transform="translate(1022.4 706.3) scale(1.42 1)" font-family='"Liberation Serif", "DejaVu Serif", serif' font-style="italic" font-size="24.4" stroke="#fff" stroke-width="0.12">τ</text>
<text x="1034.3" y="706.3" font-style="italic" font-size="24.5">,</text>
<text x="1048.7" y="706.3" font-style="italic" font-size="24.5" letter-spacing="1.3">po</text>
<text transform="translate(1088.1 693.5) scale(0.9623 1)">=</text>
<text transform="translate(1115 693.5) scale(0.9623 1)">1.83</text>
<text transform="translate(816.9 747.5) skewX(-10) scale(1.2 1)" font-family='"Liberation Serif", "DejaVu Serif", serif' font-style="italic" font-size="32.5" stroke="#fff" stroke-width="0.25">ϕ</text>
<text transform="translate(837.1 760.3) scale(1.4 1)" font-family='"Liberation Serif", "DejaVu Serif", serif' font-style="italic" font-size="24.0" stroke="#fff" stroke-width="0.12">γ</text>
<text x="851.9" y="760.3" font-style="italic" font-size="24.5">,</text>
<text x="867.8" y="760.3" font-style="italic" font-size="24.5" letter-spacing="1.3">pr</text>
<text transform="translate(898.2 747.5) scale(0.9623 1)">=</text>
<text transform="translate(925.1 747.5) scale(0.9623 1)">1.46,</text>
<text transform="translate(1006.6 747.5) skewX(-10) scale(1.2 1)" font-family='"Liberation Serif", "DejaVu Serif", serif' font-style="italic" font-size="32.5" stroke="#fff" stroke-width="0.25">ϕ</text>
<text transform="translate(1026.8 760.3) scale(1.4 1)" font-family='"Liberation Serif", "DejaVu Serif", serif' font-style="italic" font-size="24.0" stroke="#fff" stroke-width="0.12">γ</text>
<text x="1041.6" y="760.3" font-style="italic" font-size="24.5">,</text>
<text x="1057.5" y="760.3" font-style="italic" font-size="24.5" letter-spacing="1.3">po</text>
<text transform="translate(1096.9 747.5) scale(0.9623 1)">=</text>
<text transform="translate(1123.8 747.5) scale(0.9623 1)">0.2</text>
</g>
</g>
<g>
<path d="M1434.4 605 H1945.8 M1434.4 1089.8 H1945.8" stroke="#0a0a0a" stroke-width="2.2" fill="none"/>
<path d="M1434.4 1089.8 v-6 M1434.4 605 v6 M1536.7 1089.8 v-6 M1536.7 605 v6 M1638.9 1089.8 v-6 M1638.9 605 v6 M1741.2 1089.8 v-6 M1741.2 605 v6 M1843.5 1089.8 v-6 M1843.5 605 v6 M1945.8 1089.8 v-6 M1945.8 605 v6 " stroke="#0a0a0a" stroke-width="2.2" fill="none"/>
<path d="M1434.4 603.9 V1090.8 M1434.4 1089.8 h6 M1434.4 1020.5 h6 M1434.4 951.3 h6 M1434.4 882 h6 M1434.4 812.8 h6 M1434.4 743.5 h6 M1434.4 674.3 h6 " stroke="#0066B7" stroke-width="2.2" fill="none"/>
<clipPath id="clip_f"><rect x="1434.1" y="604.8" width="512" height="485.3"/></clipPath>
<g clip-path="url(#clip_f)">
<path d="M1434.4 622.4 L1587.8 622.4 L1587.8 684.4 L1638.9 684.4 L1638.9 779.4 L1690.1 779.4 L1690.1 849.4 L1741.2 849.4 L1741.2 868 L1792.4 868 L1792.4 812.8 L1843.5 812.8 L1843.5 759.8 L1894.7 759.8 L1894.7 778.7 L1945.8 778.7" fill="none" stroke="#0000ff" stroke-width="2.3" stroke-linejoin="miter"/>
<path d="M1434.4 795.5 L1587.8 795.5 L1587.8 852.4 L1638.9 852.4 L1638.9 929.7 L1690.1 929.7 L1690.1 988.5 L1741.2 988.5 L1741.2 999.2 L1792.4 999.2 L1792.4 938.1 L1843.5 938.1 L1843.5 888.1 L1894.7 888.1 L1894.7 903.7 L1945.8 903.7" fill="none" stroke="#0000ff" stroke-width="2.3" stroke-linejoin="miter"/>
<path d="M1434.4 708.9 L1587.8 708.9 L1587.8 768.2 L1638.9 768.2 L1638.9 854.7 L1690.1 854.7 L1690.1 919.1 L1741.2 919.1 L1741.2 933.9 L1792.4 933.9 L1792.4 875.4 L1843.5 875.4 L1843.5 824 L1894.7 824 L1894.7 841.5 L1945.8 841.5" fill="none" stroke="#0000ff" stroke-width="7.3" stroke-linejoin="miter"/>
<path d="M1435.3 1041.4 L1435.3 1039.2 L1435.4 1037 L1435.6 1034.8 L1435.8 1032.6 L1436.1 1030.4 L1436.5 1028.3 L1436.9 1026.1 L1437.4 1023.9 L1437.9 1021.8 L1438.5 1019.6 L1439.2 1017.5 L1439.9 1015.3 L1440.7 1013.2 L1441.6 1011 L1442.5 1008.9 L1443.5 1006.7 L1444.6 1004.5 L1445.7 1002.4 L1446.9 1000.2 L1448.1 998 L1449.4 995.8 L1450.8 993.6 L1452.2 991.4 L1453.8 989.2 L1455.3 987 L1457 984.8 L1458.7 982.5 L1460.4 980.3 L1462.2 978 L1464.1 975.7 L1466.1 973.4 L1468.1 971.1 L1470.2 968.8 L1472.3 966.4 L1474.5 964.1 L1476.8 961.7 L1479.2 959.3 L1481.6 956.8 L1484 954.4 L1486.6 951.9 L1489.1 949.4 L1491.8 946.9 L1494.5 944.4 L1497.3 941.8 L1500.2 939.3 L1503.1 936.7 L1506.1 934.1 L1509.1 931.4 L1512.2 928.8 L1515.4 926.1 L1518.6 923.4 L1521.9 920.7 L1525.3 917.9 L1528.7 915.2 L1532.2 912.4 L1535.8 909.6 L1539.4 906.8 L1543.1 904 L1546.8 901.2 L1550.6 898.3 L1554.5 895.5 L1558.4 892.6 L1562.4 889.7 L1566.5 886.8 L1570.6 883.8 L1574.8 880.9 L1579.1 877.9 L1583.4 875 L1587.8 872 L1589.5 874.2 L1591.5 874.7 L1594 874.6 L1596.6 874.5 L1599.2 874.4 L1601.6 874.2 L1604.1 873.6 L1606.5 872.9 L1608.8 872 L1611.2 871.1 L1613.6 870.2 L1616 869.4 L1618.3 868.6 L1620.7 867.8 L1623.1 867 L1625.4 866.1 L1627.7 865.2 L1630.1 864.4 L1632.4 863.5 L1634.8 862.6 L1637.1 861.6 L1639.4 860.7 L1640.3 863.4 L1641.5 865.7 L1643 867.5 L1644.8 868.8 L1647.1 869.9 L1649.6 870.8 L1652.2 871.5 L1654.7 872 L1657.1 872.5 L1659.6 872.9 L1662.2 873.3 L1664.7 873.6 L1667.2 873.8 L1669.8 873.9 L1672.3 874 L1674.8 874.2 L1677.3 874.3 L1679.9 874.3 L1682.4 874.4 L1684.9 874.5 L1687.5 874.5 L1690 874.5 L1691.4 876.9 L1692.9 879.1 L1694.6 881 L1696.5 882.4 L1698.7 883.6 L1701 884.7 L1703.5 885.6 L1706.1 886.5 L1708.7 887.3 L1711.1 888.1 L1713.6 888.9 L1716 889.6 L1718.5 890.3 L1721 891 L1723.5 891.7 L1726 892.4 L1728.6 893 L1731.1 893.6 L1733.7 894.1 L1736.2 894.6 L1738.8 895 L1741.4 895.4 L1743.8 896.2 L1746.3 897 L1748.7 897.8 L1751.2 898.5 L1753.7 899.2 L1756.1 899.8 L1758.6 900.4 L1761.1 900.9 L1763.6 901.4 L1766.1 901.9 L1768.6 902.3 L1771.1 902.8 L1773.7 903.2 L1776.2 903.6 L1778.7 904 L1781.3 904.4 L1783.8 904.7 L1786.4 905 L1788.9 905.2 L1791.5 905.4 L1793 903.1 L1794.6 901 L1796.5 899.3 L1798.5 898.1 L1800.7 897.1 L1803.2 896.3 L1805.8 895.6 L1808.3 895 L1810.8 894.4 L1813.3 893.8 L1815.8 893.2 L1818.3 892.7 L1820.9 892.2 L1823.4 891.7 L1825.9 891.2 L1828.4 890.8 L1831 890.5 L1833.5 890.1 L1836 889.8 L1838.6 889.5 L1841.1 889.2 L1843.7 889 L1845.3 886.9 L1846.9 885 L1848.7 883.3 L1850.7 881.7 L1852.7 880.3 L1854.9 879 L1857.2 877.7 L1859.5 876.6 L1861.7 875.5 L1864 874.4 L1866.3 873.4 L1868.7 872.5 L1871.1 871.5 L1873.5 870.7 L1875.9 869.8 L1878.3 869.1 L1880.7 868.4 L1883.1 867.7 L1885.6 867.1 L1888 866.5 L1890.5 865.9 L1893 865.4 L1895.5 865 L1898 864.9 L1900.6 864.8 L1903.1 864.6 L1905.7 864.5 L1908.2 864.3 L1910.8 864.1 L1913.3 863.8 L1915.8 863.5 L1918.3 863.1 L1920.9 862.7 L1923.4 862.3 L1925.9 861.9 L1928.4 861.5 L1930.9 861.1 L1933.4 860.7 L1936 860.3 L1938.5 859.9 L1941 859.5 L1943.5 859 L1946 858.6" fill="none" stroke="#ff0000" stroke-width="5.0" stroke-linejoin="round" stroke-linecap="butt"/>
<path d="M1587.8 872 L1590.8 869.9 L1593.8 867.9 L1596.8 865.9 L1599.8 863.9 L1602.8 862 L1605.9 860 L1608.9 858 L1611.9 856.1 L1614.9 854.2 L1617.9 852.3 L1620.9 850.4 L1623.9 848.5 L1626.9 846.6 L1629.9 844.7 L1632.9 842.9 L1635.9 841.1 L1638.9 839.2 L1642 837.4 L1645 835.6 L1648 833.8 L1651 832 L1654 830.3 L1657 828.5 L1660 826.7 L1663 825 L1666 823.3 L1669 821.6 L1672 819.9 L1675.1 818.2 L1678.1 816.5 L1681.1 814.8 L1684.1 813.1 L1687.1 811.5 L1690.1 809.8 L1693.1 808.2 L1696.1 806.6 L1699.1 805 L1702.1 803.4 L1705.1 801.8 L1708.1 800.2 L1711.2 798.6 L1714.2 797 L1717.2 795.5 L1720.2 793.9 L1723.2 792.4 L1726.2 790.9 L1729.2 789.3 L1732.2 787.8 L1735.2 786.3 L1738.2 784.8 L1741.2 783.4 L1744.2 781.9 L1747.3 780.4 L1750.3 779 L1753.3 777.5 L1756.3 776.1 L1759.3 774.6 L1762.3 773.2 L1765.3 771.8 L1768.3 770.4 L1771.3 769 L1774.3 767.6 L1777.3 766.2 L1780.4 764.9 L1783.4 763.5 L1786.4 762.2 L1789.4 760.8 L1792.4 759.5 L1795.4 758.1 L1798.4 756.8 L1801.4 755.5 L1804.4 754.2 L1807.4 752.9 L1810.4 751.6 L1813.4 750.4 L1816.5 749.1 L1819.5 747.8 L1822.5 746.6 L1825.5 745.3 L1828.5 744.1 L1831.5 742.8 L1834.5 741.6 L1837.5 740.4 L1840.5 739.2 L1843.5 738 L1846.5 736.8 L1849.5 735.6 L1852.6 734.4 L1855.6 733.3 L1858.6 732.1 L1861.6 730.9 L1864.6 729.8 L1867.6 728.6 L1870.6 727.5 L1873.6 726.4 L1876.6 725.3 L1879.6 724.1 L1882.6 723 L1885.6 721.9 L1888.7 720.9 L1891.7 719.8 L1894.7 718.7 L1897.7 717.6 L1900.7 716.6 L1903.7 715.5 L1906.7 714.5 L1909.7 713.4 L1912.7 712.4 L1915.7 711.4 L1918.7 710.3 L1921.8 709.3 L1924.8 708.3 L1927.8 707.3 L1930.8 706.3 L1933.8 705.3 L1936.8 704.4 L1939.8 703.4 L1942.8 702.4 L1945.8 701.5" fill="none" stroke="#ff0000" stroke-width="5.0" stroke-dasharray="47.8 28.9" stroke-dashoffset="3.7"/>
</g>
<path d="M1945.8 603.9 V1090.8 M1945.8 968.6 h-6 M1945.8 847.4 h-6 M1945.8 726.2 h-6 M1945.8 605 h-6 M1945.8 1089.8 h-6 " stroke="#D8480A" stroke-width="2.2" fill="none"/>
<g font-family='"Liberation Sans", sans-serif' font-size="35.6">
<text transform="translate(1433.8 1129.5) scale(0.955 1)" text-anchor="middle" fill="#0a0a0a">25</text>
<text transform="translate(1536.1 1129.5) scale(0.955 1)" text-anchor="middle" fill="#0a0a0a">20</text>
<text transform="translate(1638.3 1129.5) scale(0.955 1)" text-anchor="middle" fill="#0a0a0a">15</text>
<text transform="translate(1740.6 1129.5) scale(0.955 1)" text-anchor="middle" fill="#0a0a0a">10</text>
<text transform="translate(1842.9 1129.5) scale(0.955 1)" text-anchor="middle" fill="#0a0a0a">5</text>
<text transform="translate(1945.2 1129.5) scale(0.955 1)" text-anchor="middle" fill="#0a0a0a">0</text>
<text transform="translate(1424 1033.7) scale(0.955 1)" text-anchor="end" fill="#0066B7">0</text>
<text transform="translate(1424 964.5) scale(0.955 1)" text-anchor="end" fill="#0066B7">0.2</text>
<text transform="translate(1424 895.2) scale(0.955 1)" text-anchor="end" fill="#0066B7">0.4</text>
<text transform="translate(1424 826) scale(0.955 1)" text-anchor="end" fill="#0066B7">0.6</text>
<text transform="translate(1424 756.7) scale(0.955 1)" text-anchor="end" fill="#0066B7">0.8</text>
<text transform="translate(1424 687.5) scale(0.955 1)" text-anchor="end" fill="#0066B7">1</text>
<text transform="translate(1951.7 981.5) scale(0.955 1)" text-anchor="start" fill="#D8480A">30</text>
<text transform="translate(1951.7 860.3) scale(0.955 1)" text-anchor="start" fill="#D8480A">40</text>
<text transform="translate(1951.7 739.1) scale(0.955 1)" text-anchor="start" fill="#D8480A">50</text>
<text transform="translate(1951.7 617.9) scale(0.955 1)" text-anchor="start" fill="#D8480A">60</text>
</g>
<g font-family='"Liberation Sans", sans-serif' font-size="31.8" fill="#000">
<text transform="translate(1471.2 652.2) scale(0.9623 1)" word-spacing="0.83">(f) e0 = 0.9</text>
<text x="1620.2" y="652.5" font-family='"DejaVu Sans", sans-serif' font-weight="200" font-size="33.2">±</text>
<text transform="translate(1645.2 652.2) scale(0.9623 1)">0.25</text>
<text transform="translate(1472.5 693.5) skewX(-10) scale(1.2 1)" font-family='"Liberation Serif", "DejaVu Serif", serif' font-style="italic" font-size="32.5" stroke="#fff" stroke-width="0.25">ϕ</text>
<text transform="translate(1492.7 706.3) scale(1.42 1)" font-family='"Liberation Serif", "DejaVu Serif", serif' font-style="italic" font-size="24.4" stroke="#fff" stroke-width="0.12">τ</text>
<text x="1504.6" y="706.3" font-style="italic" font-size="24.5">,</text>
<text x="1519" y="706.3" font-style="italic" font-size="24.5" letter-spacing="1.3">pr</text>
<text transform="translate(1549.4 693.5) scale(0.9623 1)">=</text>
<text transform="translate(1576.3 693.5) scale(0.9623 1)">6.75,</text>
<text transform="translate(1657.8 693.5) skewX(-10) scale(1.2 1)" font-family='"Liberation Serif", "DejaVu Serif", serif' font-style="italic" font-size="32.5" stroke="#fff" stroke-width="0.25">ϕ</text>
<text transform="translate(1678 706.3) scale(1.42 1)" font-family='"Liberation Serif", "DejaVu Serif", serif' font-style="italic" font-size="24.4" stroke="#fff" stroke-width="0.12">τ</text>
<text x="1689.9" y="706.3" font-style="italic" font-size="24.5">,</text>
<text x="1704.3" y="706.3" font-style="italic" font-size="24.5" letter-spacing="1.3">po</text>
<text transform="translate(1743.7 693.5) scale(0.9623 1)">=</text>
<text transform="translate(1770.6 693.5) scale(0.9623 1)">2.11</text>
<text transform="translate(1472.5 747.5) skewX(-10) scale(1.2 1)" font-family='"Liberation Serif", "DejaVu Serif", serif' font-style="italic" font-size="32.5" stroke="#fff" stroke-width="0.25">ϕ</text>
<text transform="translate(1492.7 760.3) scale(1.4 1)" font-family='"Liberation Serif", "DejaVu Serif", serif' font-style="italic" font-size="24.0" stroke="#fff" stroke-width="0.12">γ</text>
<text x="1507.5" y="760.3" font-style="italic" font-size="24.5">,</text>
<text x="1523.4" y="760.3" font-style="italic" font-size="24.5" letter-spacing="1.3">pr</text>
<text transform="translate(1553.8 747.5) scale(0.9623 1)">=</text>
<text transform="translate(1580.8 747.5) scale(0.9623 1)">3.37,</text>
<text transform="translate(1662.2 747.5) skewX(-10) scale(1.2 1)" font-family='"Liberation Serif", "DejaVu Serif", serif' font-style="italic" font-size="32.5" stroke="#fff" stroke-width="0.25">ϕ</text>
<text transform="translate(1682.4 760.3) scale(1.4 1)" font-family='"Liberation Serif", "DejaVu Serif", serif' font-style="italic" font-size="24.0" stroke="#fff" stroke-width="0.12">γ</text>
<text x="1697.2" y="760.3" font-style="italic" font-size="24.5">,</text>
<text x="1713.1" y="760.3" font-style="italic" font-size="24.5" letter-spacing="1.3">po</text>
<text transform="translate(1752.5 747.5) scale(0.9623 1)">=</text>
<text transform="translate(1779.4 747.5) scale(0.9623 1)">0.04</text>
</g>
</g>
<g font-family='"Liberation Sans", sans-serif' font-size="37.4">
<text transform="translate(47.8 277.4) rotate(-90) scale(0.968 1)" text-anchor="middle" fill="#0066B7">Erosion rate (km/my)</text>
<text transform="translate(2040.8 164.2) rotate(-90) scale(0.968 1)" text-anchor="end" fill="#D8480A">Geothermal gradient (</text>
<text transform="translate(2024.8 161.1) rotate(-90)" font-size="29.5" fill="#D8480A">o</text>
<text transform="translate(2040.8 141.8) rotate(-90) scale(0.985 1)" fill="#D8480A">C/km)</text>
<text transform="translate(47.8 847.8) rotate(-90) scale(0.968 1)" text-anchor="middle" fill="#0066B7">Erosion rate (km/my)</text>
<text transform="translate(2040.8 734.6) rotate(-90) scale(0.968 1)" text-anchor="end" fill="#D8480A">Geothermal gradient (</text>
<text transform="translate(2024.8 731.4) rotate(-90)" font-size="29.5" fill="#D8480A">o</text>
<text transform="translate(2040.8 712.1) rotate(-90) scale(0.985 1)" fill="#D8480A">C/km)</text>
<text transform="translate(383.2 1175) scale(0.968 1)" text-anchor="middle" fill="#0a0a0a">Time (Ma)</text>
<text transform="translate(1037.1 1175) scale(0.968 1)" text-anchor="middle" fill="#0a0a0a">Time (Ma)</text>
<text transform="translate(1691.1 1175) scale(0.968 1)" text-anchor="middle" fill="#0a0a0a">Time (Ma)</text>
</g>
</svg></body></html>
